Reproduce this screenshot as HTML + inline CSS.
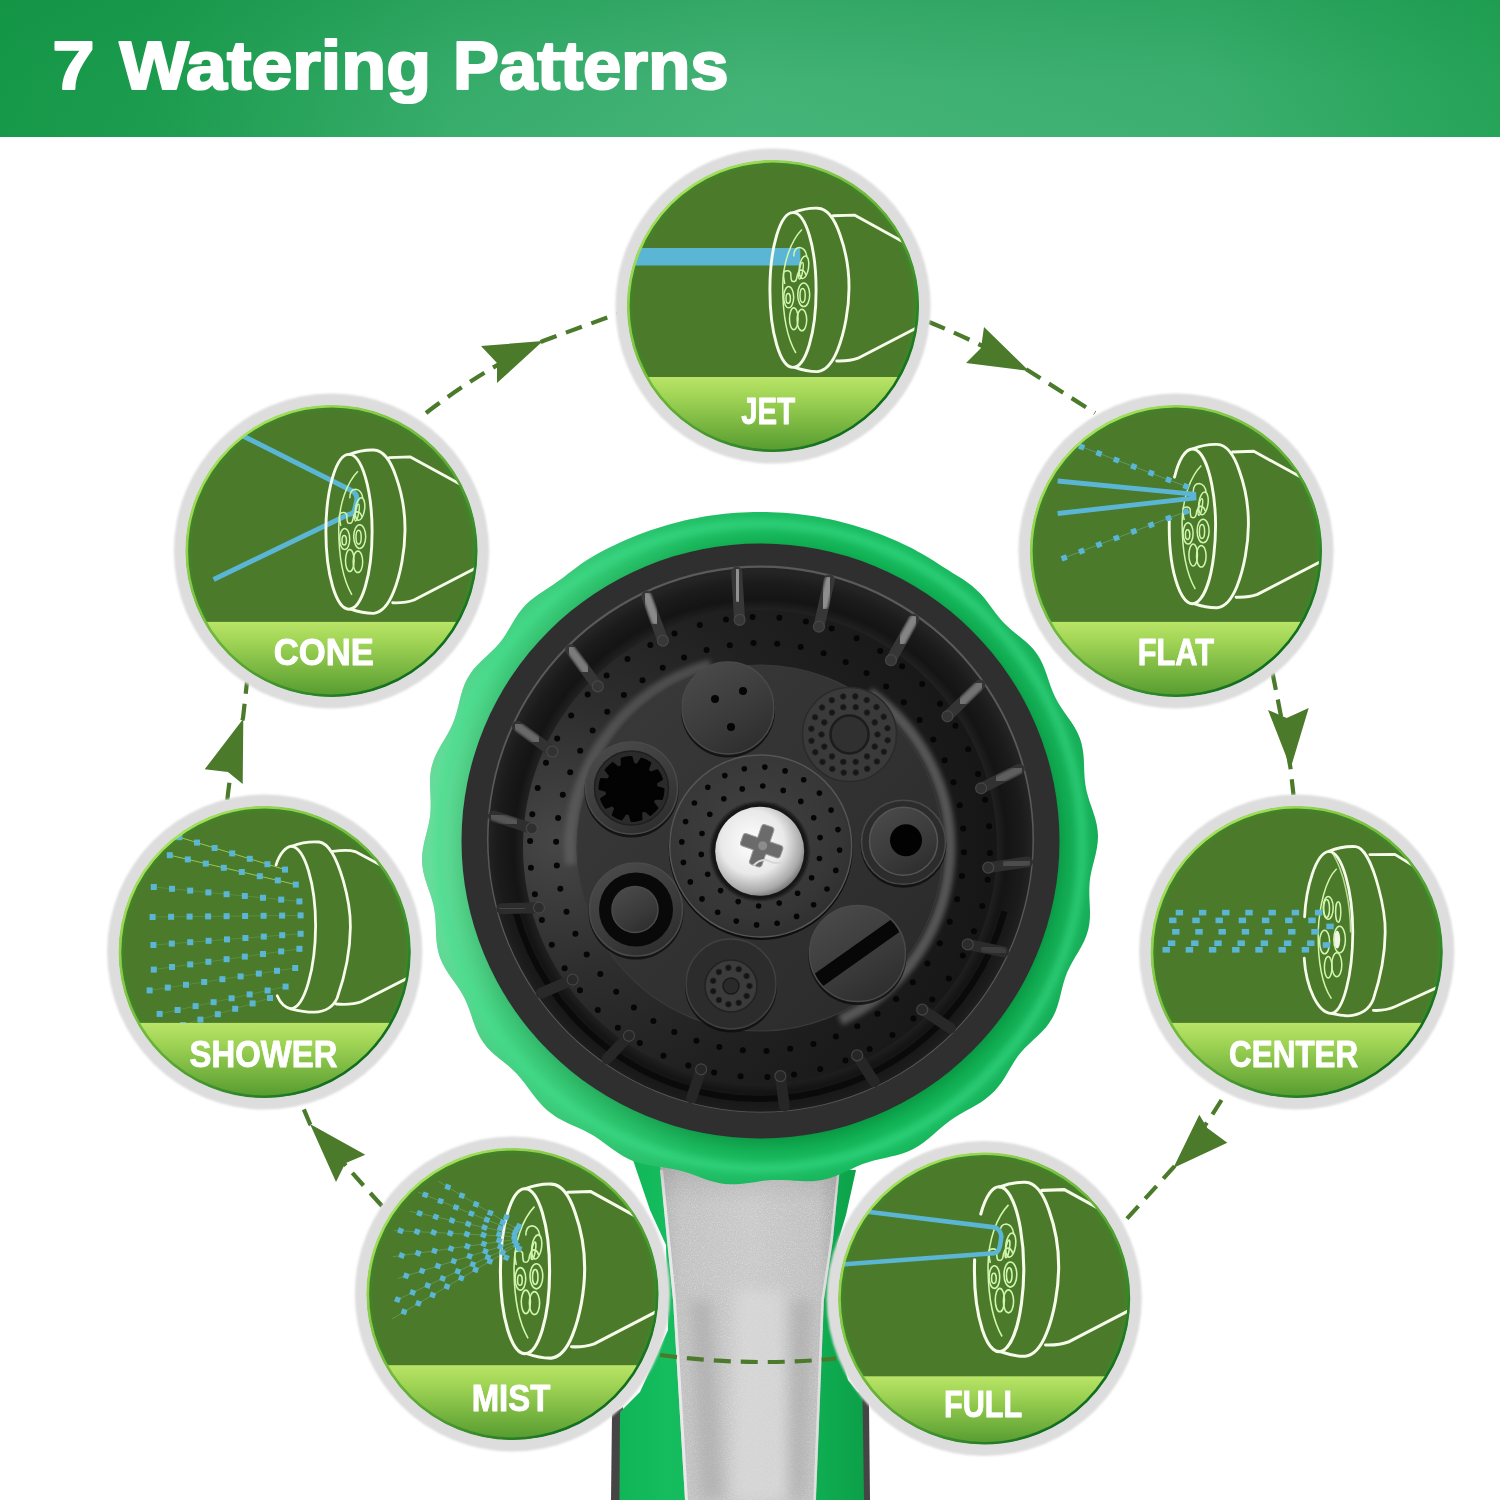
<!DOCTYPE html>
<html><head><meta charset="utf-8"><title>7 Watering Patterns</title>
<style>
html,body{margin:0;padding:0;background:#fff;}
body{width:1500px;height:1500px;overflow:hidden;font-family:"Liberation Sans",sans-serif;}
svg{display:block;}
</style></head><body>
<svg width="1500" height="1500" viewBox="0 0 1500 1500">
<defs>
<linearGradient id="hdrH" x1="0" x2="1" y1="0" y2="0">
 <stop offset="0" stop-color="#17994a"/><stop offset="0.1" stop-color="#1c9c4e"/><stop offset="0.3" stop-color="#38ad6c"/><stop offset="0.5" stop-color="#45b478"/><stop offset="0.8" stop-color="#3db071"/><stop offset="1" stop-color="#26a458"/>
</linearGradient>
<linearGradient id="hdrV" x1="0" x2="0" y1="0" y2="1">
 <stop offset="0" stop-color="#0a8a3c" stop-opacity="0.28"/><stop offset="0.6" stop-color="#0a8a3c" stop-opacity="0.05"/><stop offset="1" stop-color="#0a8a3c" stop-opacity="0"/>
</linearGradient>
<linearGradient id="band" x1="0" x2="0" y1="0" y2="1">
 <stop offset="0" stop-color="#b9e468"/><stop offset="0.25" stop-color="#a0d455"/><stop offset="1" stop-color="#4f962c"/>
</linearGradient>
<linearGradient id="rim" x1="0.15" y1="0.1" x2="0.85" y2="0.9">
 <stop offset="0" stop-color="#a8e45c"/><stop offset="0.45" stop-color="#6fb83a"/><stop offset="1" stop-color="#0c6a1e"/>
</linearGradient>
<radialGradient id="discG" gradientUnits="userSpaceOnUse" cx="0" cy="0" r="145.6"><stop offset="0" stop-color="#4a7a2a"/><stop offset="0.95" stop-color="#4a7a2a"/><stop offset="1" stop-color="#3f8828"/></radialGradient>
<filter id="grain" x="0" y="0" width="100%" height="100%"><feTurbulence type="fractalNoise" baseFrequency="0.85" numOctaves="2" seed="7" result="n"/><feColorMatrix in="n" type="matrix" values="0 0 0 0 1  0 0 0 0 1  0 0 0 0 1  1.4 0 0 0 -0.62" result="m"/><feComposite in="m" in2="SourceGraphic" operator="in"/></filter>
<filter id="blur1" x="-10%" y="-10%" width="120%" height="120%"><feGaussianBlur stdDeviation="1.3"/></filter>
<filter id="blur2" x="-10%" y="-10%" width="120%" height="120%"><feGaussianBlur stdDeviation="2.5"/></filter>
<filter id="blur6" x="-50%" y="-20%" width="200%" height="140%"><feGaussianBlur stdDeviation="7"/></filter>
<filter id="blur05"><feGaussianBlur stdDeviation="0.6"/></filter>
<clipPath id="cc"><circle r="145.6"/></clipPath>
<radialGradient id="greenHead" gradientUnits="userSpaceOnUse" cx="760" cy="846" r="340">
 <stop offset="0.85" stop-color="#08923f"/><stop offset="0.9" stop-color="#10b053"/><stop offset="0.95" stop-color="#1fc569"/><stop offset="1" stop-color="#17b55b"/>
</radialGradient>
<linearGradient id="greenLight" gradientUnits="userSpaceOnUse" x1="424" y1="0" x2="1097" y2="0">
 <stop offset="0" stop-color="#b8ffd8" stop-opacity="0.5"/><stop offset="0.12" stop-color="#a0ffcc" stop-opacity="0.32"/><stop offset="0.4" stop-color="#a0ffcc" stop-opacity="0.06"/><stop offset="0.7" stop-color="#00401c" stop-opacity="0"/><stop offset="1" stop-color="#00401c" stop-opacity="0.1"/>
</linearGradient>
<radialGradient id="wall" gradientUnits="userSpaceOnUse" cx="760" cy="846" r="274">
 <stop offset="0" stop-color="#1c1c1c"/><stop offset="0.86" stop-color="#222"/><stop offset="0.9" stop-color="#141414"/><stop offset="0.96" stop-color="#1b1b1b"/><stop offset="1" stop-color="#242424"/>
</radialGradient>
<radialGradient id="floor" gradientUnits="userSpaceOnUse" cx="560" cy="840" r="440">
 <stop offset="0" stop-color="#474747"/><stop offset="0.3" stop-color="#2e2e2e"/><stop offset="0.6" stop-color="#202020"/><stop offset="1" stop-color="#161616"/>
</radialGradient>
<linearGradient id="plate" x1="0" y1="0" x2="1" y2="1">
 <stop offset="0" stop-color="#3a3a3a"/><stop offset="0.5" stop-color="#323232"/><stop offset="1" stop-color="#292929"/>
</linearGradient>
<linearGradient id="nozTop" x1="0.2" y1="0" x2="0.8" y2="1">
 <stop offset="0" stop-color="#4a4a4a"/><stop offset="0.6" stop-color="#3a3a3a"/><stop offset="1" stop-color="#2c2c2c"/>
</linearGradient>
<radialGradient id="cdisc" cx="0.45" cy="0.4" r="0.7">
 <stop offset="0" stop-color="#414141"/><stop offset="0.7" stop-color="#363636"/><stop offset="1" stop-color="#2b2b2b"/>
</radialGradient>
<radialGradient id="screw" cx="0.42" cy="0.4" r="0.65">
 <stop offset="0" stop-color="#ffffff"/><stop offset="0.55" stop-color="#e9e9e9"/><stop offset="0.85" stop-color="#a9a9a9"/><stop offset="1" stop-color="#6a6a6a"/>
</radialGradient>
<linearGradient id="silver" x1="0" x2="1" y1="0" y2="0">
 <stop offset="0" stop-color="#b4b4b4"/><stop offset="0.12" stop-color="#c2c2c2"/><stop offset="0.5" stop-color="#c9c9c9"/><stop offset="0.88" stop-color="#c0c0c0"/><stop offset="1" stop-color="#a6a6a6"/>
</linearGradient>
<linearGradient id="neckShadow" x1="0" x2="0" y1="0" y2="1"><stop offset="0" stop-color="#8a8a8a" stop-opacity="0.35"/><stop offset="0.5" stop-color="#8a8a8a" stop-opacity="0.15"/><stop offset="1" stop-color="#8a8a8a" stop-opacity="0"/></linearGradient>
<linearGradient id="neckG" x1="0" x2="1" y1="0" y2="0">
 <stop offset="0" stop-color="#10b556"/><stop offset="0.2" stop-color="#15bd5f"/><stop offset="0.8" stop-color="#0fae52"/><stop offset="1" stop-color="#0ca049"/>
</linearGradient>
</defs>
<rect x="0" y="0" width="1500" height="137" fill="url(#hdrH)"/>
<rect x="0" y="0" width="1500" height="137" fill="url(#hdrV)"/>
<text x="52.5" y="88.8" font-family="'Liberation Sans', sans-serif" font-weight="bold" font-size="68" fill="#ffffff" stroke="#ffffff" stroke-width="2.2" stroke-linejoin="round" lengthAdjust="spacingAndGlyphs" opacity="0.999" textLength="42">7</text>
<text x="119.5" y="88.8" font-family="'Liberation Sans', sans-serif" font-weight="bold" font-size="68" fill="#ffffff" stroke="#ffffff" stroke-width="2.2" stroke-linejoin="round" lengthAdjust="spacingAndGlyphs" opacity="0.999" textLength="311.5">Watering</text>
<text x="453" y="88.8" font-family="'Liberation Sans', sans-serif" font-weight="bold" font-size="68" fill="#ffffff" stroke="#ffffff" stroke-width="2.2" stroke-linejoin="round" lengthAdjust="spacingAndGlyphs" opacity="0.999" textLength="275.5">Patterns</text>
<path d="M426,413 Q482,370 543,341 L617,314" fill="none" stroke="#4a7a2a" stroke-width="4.2" stroke-dasharray="17 10"/>
<polygon points="543,341 481,346 497,363 497,383" fill="#4a7a2a"/>
<path d="M929,322 Q985,345 1029,371 L1095,413" fill="none" stroke="#4a7a2a" stroke-width="4.2" stroke-dasharray="17 10"/>
<polygon points="1029,371 984,327 981,348 966,363" fill="#4a7a2a"/>
<path d="M1272.5,673 Q1283,725 1290.5,768 L1293.5,795" fill="none" stroke="#4a7a2a" stroke-width="4.2" stroke-dasharray="17 10"/>
<polygon points="1290.7,768 1268,710 1286.7,718 1308.7,708" fill="#4a7a2a"/>
<path d="M1221.5,1100 Q1200,1135 1173,1168 L1123,1223" fill="none" stroke="#4a7a2a" stroke-width="4.2" stroke-dasharray="17 10"/>
<polygon points="1173.3,1168 1199.3,1114.7 1207.3,1128 1227.3,1142.7" fill="#4a7a2a"/>
<path d="M382,1206 Q342,1162 310,1124 L302,1105" fill="none" stroke="#4a7a2a" stroke-width="4.2" stroke-dasharray="17 10"/>
<polygon points="310,1124 365.3,1154.7 345.3,1163.3 336,1182" fill="#4a7a2a"/>
<path d="M227.3,800 Q232,755 243,718 L247,682" fill="none" stroke="#4a7a2a" stroke-width="4.2" stroke-dasharray="17 10"/>
<polygon points="243.3,718.7 204.7,769.3 228,772 242.7,784" fill="#4a7a2a"/>
<path d="M612,1414 L623,1407 L622,1500 L611,1500 Z" fill="#454545"/>
<path d="M858,1392 L869,1404 L870,1500 L858,1500 Z" fill="#454545"/>
<path d="M633,1160 L650,1210 L666,1245 L668,1330 L640,1392 L620,1412 L619.5,1500 L864,1500 L862.5,1398 L848,1380 L834,1330 L837,1245 L846,1215 L856,1170 Z" fill="url(#neckG)"/>
<path d="M660,1165 L840,1165 L833,1240 L824,1300 L820,1400 L816,1500 L685,1500 L679,1400 L673,1300 L666,1230 Z" fill="url(#silver)"/>
<path d="M660,1165 L840,1165 L833,1240 L824,1300 L820,1400 L816,1500 L685,1500 L679,1400 L673,1300 L666,1230 Z" fill="#fff" filter="url(#grain)" opacity="0.55"/>
<path d="M735,1290 L785,1290 Q786,1400 790,1500 L732,1500 Q734,1400 735,1290 Z" fill="#dedede" opacity="0.6" filter="url(#blur6)"/>
<path d="M690,1300 L712,1300 Q718,1400 724,1500 L700,1500 Z" fill="#a0a0a0" opacity="0.5" filter="url(#blur6)"/>
<path d="M792,1300 L812,1300 Q808,1400 804,1500 L790,1500 Z" fill="#a0a0a0" opacity="0.5" filter="url(#blur6)"/>
<path d="M661.5,1170 L667.5,1230 L674.5,1300 L680.5,1400 L686.5,1500" fill="none" stroke="#ececec" stroke-width="3" opacity="0.9"/>
<path d="M838.5,1170 L831.5,1240 L822.5,1300 L818.5,1400 L814.5,1500" fill="none" stroke="#e6e6e6" stroke-width="2.5" opacity="0.8"/>
<path d="M660,1165 L840,1165 L838,1205 L662,1205 Z" fill="url(#neckShadow)"/>
<path d="M1096.9,848.0 L1095.7,853.9 L1094.3,859.7 L1092.8,865.4 L1091.4,871.2 L1090.3,876.9 L1089.6,882.6 L1089.3,888.4 L1089.3,894.3 L1089.5,900.2 L1089.8,906.2 L1090.0,912.1 L1089.9,918.1 L1089.3,924.0 L1088.2,929.8 L1086.4,935.5 L1084.2,941.0 L1081.5,946.3 L1078.6,951.5 L1075.5,956.6 L1072.5,961.7 L1069.7,966.9 L1067.3,972.1 L1065.2,977.6 L1063.5,983.1 L1062.0,988.8 L1060.6,994.6 L1059.1,1000.4 L1057.4,1006.2 L1055.4,1011.7 L1052.9,1017.1 L1049.8,1022.1 L1046.3,1026.9 L1042.3,1031.3 L1038.1,1035.6 L1033.7,1039.6 L1029.3,1043.7 L1025.1,1047.8 L1021.2,1052.1 L1017.6,1056.6 L1014.3,1061.4 L1011.3,1066.4 L1008.3,1071.6 L1005.2,1076.7 L1002.0,1081.7 L998.4,1086.4 L994.6,1090.9 L990.3,1095.0 L985.8,1098.8 L981.0,1102.2 L975.9,1105.3 L970.7,1108.2 L965.5,1111.1 L960.4,1114.0 L955.4,1117.0 L950.6,1120.2 L946.0,1123.7 L941.4,1127.4 L937.0,1131.2 L932.5,1135.2 L928.0,1139.0 L923.3,1142.7 L918.5,1146.0 L913.3,1148.9 L908.0,1151.4 L902.5,1153.5 L896.8,1155.2 L891.0,1156.6 L885.2,1157.9 L879.4,1159.2 L873.8,1160.6 L868.2,1162.2 L862.7,1164.1 L857.3,1166.3 L852.0,1168.7 L846.6,1171.2 L841.2,1173.7 L835.7,1176.0 L830.1,1178.0 L824.4,1179.5 L818.6,1180.6 L812.8,1181.2 L806.8,1181.3 L800.9,1181.1 L795.0,1180.8 L789.1,1180.3 L783.2,1180.0 L777.4,1180.0 L771.6,1180.1 L765.8,1180.6 L760.0,1181.3 L754.2,1182.2 L748.3,1183.1 L742.4,1183.8 L736.5,1184.3 L730.6,1184.3 L724.7,1183.9 L718.9,1183.0 L713.1,1181.6 L707.4,1179.9 L701.8,1177.9 L696.3,1175.8 L690.7,1173.8 L685.2,1172.0 L679.6,1170.4 L673.9,1169.2 L668.2,1168.2 L662.4,1167.3 L656.5,1166.5 L650.6,1165.6 L644.8,1164.5 L639.1,1163.1 L633.5,1161.2 L628.1,1158.8 L622.9,1156.0 L617.9,1152.8 L613.0,1149.4 L608.2,1145.9 L603.5,1142.4 L598.7,1139.0 L593.8,1135.8 L588.8,1132.9 L583.6,1130.3 L578.3,1127.8 L572.9,1125.4 L567.5,1122.9 L562.2,1120.3 L557.0,1117.4 L552.1,1114.1 L547.5,1110.5 L543.2,1106.4 L539.1,1102.1 L535.4,1097.5 L531.7,1092.8 L528.2,1088.0 L524.7,1083.3 L521.1,1078.7 L517.3,1074.3 L513.2,1070.2 L508.9,1066.3 L504.3,1062.6 L499.6,1058.8 L495.0,1055.0 L490.6,1051.0 L486.6,1046.7 L483.0,1042.0 L479.9,1037.0 L477.2,1031.6 L475.0,1026.1 L473.0,1020.4 L471.1,1014.8 L469.2,1009.2 L467.1,1003.7 L464.7,998.5 L462.0,993.4 L458.9,988.4 L455.5,983.6 L452.1,978.7 L448.6,973.8 L445.4,968.8 L442.6,963.5 L440.2,958.1 L438.5,952.5 L437.3,946.7 L436.5,940.8 L436.1,934.8 L435.9,928.8 L435.7,922.9 L435.3,917.0 L434.6,911.2 L433.6,905.6 L432.1,899.9 L430.4,894.3 L428.4,888.7 L426.5,883.1 L424.7,877.3 L423.3,871.5 L422.4,865.7 L422.0,859.8 L422.3,853.9 L423.1,848.0 L424.3,842.1 L425.7,836.3 L427.2,830.6 L428.6,824.8 L429.7,819.1 L430.4,813.4 L430.7,807.6 L430.7,801.7 L430.5,795.8 L430.2,789.8 L430.0,783.9 L430.1,777.9 L430.7,772.0 L431.8,766.2 L433.6,760.5 L435.8,755.0 L438.5,749.7 L441.4,744.5 L444.5,739.4 L447.5,734.3 L450.3,729.1 L452.7,723.9 L454.8,718.4 L456.5,712.9 L458.0,707.2 L459.4,701.4 L460.9,695.6 L462.6,689.8 L464.6,684.3 L467.1,678.9 L470.2,673.9 L473.7,669.1 L477.7,664.7 L481.9,660.4 L486.3,656.4 L490.7,652.3 L494.9,648.2 L498.8,643.9 L502.4,639.4 L505.7,634.6 L508.7,629.6 L511.7,624.4 L514.8,619.3 L518.0,614.3 L521.6,609.6 L525.5,605.1 L529.8,601.1 L534.3,597.4 L539.1,593.9 L544.1,590.7 L549.0,587.4 L553.9,584.2 L558.7,580.8 L563.4,577.4 L568.0,573.8 L572.7,570.3 L577.4,566.7 L582.1,563.3 L587.0,560.1 L592.0,557.0 L597.1,554.1 L602.2,551.3 L607.5,548.6 L612.7,546.0 L618.0,543.5 L623.3,541.0 L628.7,538.7 L634.1,536.5 L639.6,534.3 L645.1,532.3 L650.6,530.3 L656.2,528.4 L661.8,526.7 L667.4,525.0 L673.0,523.4 L678.7,522.0 L684.4,520.6 L690.1,519.3 L695.9,518.2 L701.7,517.1 L707.4,516.1 L713.2,515.3 L719.1,514.5 L724.9,513.8 L730.7,513.3 L736.6,512.8 L742.4,512.5 L748.3,512.2 L754.1,512.1 L760.0,512.0 L765.9,512.1 L771.7,512.2 L777.6,512.5 L783.4,512.8 L789.3,513.3 L795.1,513.8 L800.9,514.5 L806.8,515.3 L812.6,516.1 L818.3,517.1 L824.1,518.2 L829.9,519.3 L835.6,520.6 L841.3,522.0 L847.0,523.4 L852.6,525.0 L858.2,526.7 L863.8,528.4 L869.4,530.3 L874.9,532.3 L880.4,534.3 L885.9,536.5 L891.3,538.7 L896.7,541.0 L902.0,543.5 L907.3,546.0 L912.5,548.6 L917.7,551.4 L922.8,554.2 L927.9,557.2 L932.8,560.3 L937.8,563.5 L942.7,566.7 L947.7,569.8 L952.6,572.9 L957.6,576.0 L962.6,579.1 L967.5,582.5 L972.2,586.0 L976.6,589.9 L980.8,594.0 L984.7,598.5 L988.3,603.2 L991.8,607.9 L995.3,612.7 L998.9,617.3 L1002.7,621.7 L1006.8,625.8 L1011.1,629.7 L1015.7,633.4 L1020.4,637.2 L1025.0,641.0 L1029.4,645.0 L1033.4,649.3 L1037.0,654.0 L1040.1,659.0 L1042.8,664.4 L1045.0,669.9 L1047.0,675.6 L1048.9,681.2 L1050.8,686.8 L1052.9,692.3 L1055.3,697.5 L1058.0,702.6 L1061.1,707.6 L1064.5,712.4 L1067.9,717.3 L1071.4,722.2 L1074.6,727.2 L1077.4,732.5 L1079.8,737.9 L1081.5,743.5 L1082.7,749.3 L1083.5,755.2 L1083.9,761.2 L1084.1,767.2 L1084.3,773.1 L1084.7,779.0 L1085.4,784.8 L1086.4,790.4 L1087.9,796.1 L1089.6,801.7 L1091.6,807.3 L1093.5,812.9 L1095.3,818.7 L1096.7,824.5 L1097.6,830.3 L1098.0,836.2 L1097.7,842.1 Z" fill="url(#greenHead)"/>
<path d="M1096.9,848.0 L1095.7,853.9 L1094.3,859.7 L1092.8,865.4 L1091.4,871.2 L1090.3,876.9 L1089.6,882.6 L1089.3,888.4 L1089.3,894.3 L1089.5,900.2 L1089.8,906.2 L1090.0,912.1 L1089.9,918.1 L1089.3,924.0 L1088.2,929.8 L1086.4,935.5 L1084.2,941.0 L1081.5,946.3 L1078.6,951.5 L1075.5,956.6 L1072.5,961.7 L1069.7,966.9 L1067.3,972.1 L1065.2,977.6 L1063.5,983.1 L1062.0,988.8 L1060.6,994.6 L1059.1,1000.4 L1057.4,1006.2 L1055.4,1011.7 L1052.9,1017.1 L1049.8,1022.1 L1046.3,1026.9 L1042.3,1031.3 L1038.1,1035.6 L1033.7,1039.6 L1029.3,1043.7 L1025.1,1047.8 L1021.2,1052.1 L1017.6,1056.6 L1014.3,1061.4 L1011.3,1066.4 L1008.3,1071.6 L1005.2,1076.7 L1002.0,1081.7 L998.4,1086.4 L994.6,1090.9 L990.3,1095.0 L985.8,1098.8 L981.0,1102.2 L975.9,1105.3 L970.7,1108.2 L965.5,1111.1 L960.4,1114.0 L955.4,1117.0 L950.6,1120.2 L946.0,1123.7 L941.4,1127.4 L937.0,1131.2 L932.5,1135.2 L928.0,1139.0 L923.3,1142.7 L918.5,1146.0 L913.3,1148.9 L908.0,1151.4 L902.5,1153.5 L896.8,1155.2 L891.0,1156.6 L885.2,1157.9 L879.4,1159.2 L873.8,1160.6 L868.2,1162.2 L862.7,1164.1 L857.3,1166.3 L852.0,1168.7 L846.6,1171.2 L841.2,1173.7 L835.7,1176.0 L830.1,1178.0 L824.4,1179.5 L818.6,1180.6 L812.8,1181.2 L806.8,1181.3 L800.9,1181.1 L795.0,1180.8 L789.1,1180.3 L783.2,1180.0 L777.4,1180.0 L771.6,1180.1 L765.8,1180.6 L760.0,1181.3 L754.2,1182.2 L748.3,1183.1 L742.4,1183.8 L736.5,1184.3 L730.6,1184.3 L724.7,1183.9 L718.9,1183.0 L713.1,1181.6 L707.4,1179.9 L701.8,1177.9 L696.3,1175.8 L690.7,1173.8 L685.2,1172.0 L679.6,1170.4 L673.9,1169.2 L668.2,1168.2 L662.4,1167.3 L656.5,1166.5 L650.6,1165.6 L644.8,1164.5 L639.1,1163.1 L633.5,1161.2 L628.1,1158.8 L622.9,1156.0 L617.9,1152.8 L613.0,1149.4 L608.2,1145.9 L603.5,1142.4 L598.7,1139.0 L593.8,1135.8 L588.8,1132.9 L583.6,1130.3 L578.3,1127.8 L572.9,1125.4 L567.5,1122.9 L562.2,1120.3 L557.0,1117.4 L552.1,1114.1 L547.5,1110.5 L543.2,1106.4 L539.1,1102.1 L535.4,1097.5 L531.7,1092.8 L528.2,1088.0 L524.7,1083.3 L521.1,1078.7 L517.3,1074.3 L513.2,1070.2 L508.9,1066.3 L504.3,1062.6 L499.6,1058.8 L495.0,1055.0 L490.6,1051.0 L486.6,1046.7 L483.0,1042.0 L479.9,1037.0 L477.2,1031.6 L475.0,1026.1 L473.0,1020.4 L471.1,1014.8 L469.2,1009.2 L467.1,1003.7 L464.7,998.5 L462.0,993.4 L458.9,988.4 L455.5,983.6 L452.1,978.7 L448.6,973.8 L445.4,968.8 L442.6,963.5 L440.2,958.1 L438.5,952.5 L437.3,946.7 L436.5,940.8 L436.1,934.8 L435.9,928.8 L435.7,922.9 L435.3,917.0 L434.6,911.2 L433.6,905.6 L432.1,899.9 L430.4,894.3 L428.4,888.7 L426.5,883.1 L424.7,877.3 L423.3,871.5 L422.4,865.7 L422.0,859.8 L422.3,853.9 L423.1,848.0 L424.3,842.1 L425.7,836.3 L427.2,830.6 L428.6,824.8 L429.7,819.1 L430.4,813.4 L430.7,807.6 L430.7,801.7 L430.5,795.8 L430.2,789.8 L430.0,783.9 L430.1,777.9 L430.7,772.0 L431.8,766.2 L433.6,760.5 L435.8,755.0 L438.5,749.7 L441.4,744.5 L444.5,739.4 L447.5,734.3 L450.3,729.1 L452.7,723.9 L454.8,718.4 L456.5,712.9 L458.0,707.2 L459.4,701.4 L460.9,695.6 L462.6,689.8 L464.6,684.3 L467.1,678.9 L470.2,673.9 L473.7,669.1 L477.7,664.7 L481.9,660.4 L486.3,656.4 L490.7,652.3 L494.9,648.2 L498.8,643.9 L502.4,639.4 L505.7,634.6 L508.7,629.6 L511.7,624.4 L514.8,619.3 L518.0,614.3 L521.6,609.6 L525.5,605.1 L529.8,601.1 L534.3,597.4 L539.1,593.9 L544.1,590.7 L549.0,587.4 L553.9,584.2 L558.7,580.8 L563.4,577.4 L568.0,573.8 L572.7,570.3 L577.4,566.7 L582.1,563.3 L587.0,560.1 L592.0,557.0 L597.1,554.1 L602.2,551.3 L607.5,548.6 L612.7,546.0 L618.0,543.5 L623.3,541.0 L628.7,538.7 L634.1,536.5 L639.6,534.3 L645.1,532.3 L650.6,530.3 L656.2,528.4 L661.8,526.7 L667.4,525.0 L673.0,523.4 L678.7,522.0 L684.4,520.6 L690.1,519.3 L695.9,518.2 L701.7,517.1 L707.4,516.1 L713.2,515.3 L719.1,514.5 L724.9,513.8 L730.7,513.3 L736.6,512.8 L742.4,512.5 L748.3,512.2 L754.1,512.1 L760.0,512.0 L765.9,512.1 L771.7,512.2 L777.6,512.5 L783.4,512.8 L789.3,513.3 L795.1,513.8 L800.9,514.5 L806.8,515.3 L812.6,516.1 L818.3,517.1 L824.1,518.2 L829.9,519.3 L835.6,520.6 L841.3,522.0 L847.0,523.4 L852.6,525.0 L858.2,526.7 L863.8,528.4 L869.4,530.3 L874.9,532.3 L880.4,534.3 L885.9,536.5 L891.3,538.7 L896.7,541.0 L902.0,543.5 L907.3,546.0 L912.5,548.6 L917.7,551.4 L922.8,554.2 L927.9,557.2 L932.8,560.3 L937.8,563.5 L942.7,566.7 L947.7,569.8 L952.6,572.9 L957.6,576.0 L962.6,579.1 L967.5,582.5 L972.2,586.0 L976.6,589.9 L980.8,594.0 L984.7,598.5 L988.3,603.2 L991.8,607.9 L995.3,612.7 L998.9,617.3 L1002.7,621.7 L1006.8,625.8 L1011.1,629.7 L1015.7,633.4 L1020.4,637.2 L1025.0,641.0 L1029.4,645.0 L1033.4,649.3 L1037.0,654.0 L1040.1,659.0 L1042.8,664.4 L1045.0,669.9 L1047.0,675.6 L1048.9,681.2 L1050.8,686.8 L1052.9,692.3 L1055.3,697.5 L1058.0,702.6 L1061.1,707.6 L1064.5,712.4 L1067.9,717.3 L1071.4,722.2 L1074.6,727.2 L1077.4,732.5 L1079.8,737.9 L1081.5,743.5 L1082.7,749.3 L1083.5,755.2 L1083.9,761.2 L1084.1,767.2 L1084.3,773.1 L1084.7,779.0 L1085.4,784.8 L1086.4,790.4 L1087.9,796.1 L1089.6,801.7 L1091.6,807.3 L1093.5,812.9 L1095.3,818.7 L1096.7,824.5 L1097.6,830.3 L1098.0,836.2 L1097.7,842.1 Z" fill="url(#greenLight)"/>
<circle cx="760" cy="846" r="322" fill="none" stroke="#3ddb88" stroke-width="10" opacity="0.35" filter="url(#blur2)"/>
<ellipse cx="760.5" cy="841" rx="299" ry="297.5" fill="#2f2f2f"/>
<circle cx="760.5" cy="839" r="273.5" fill="#5a5a5a"/>
<circle cx="760.5" cy="839.8" r="272" fill="url(#wall)"/>
<path d="M1004.4,911.5 A253,253 0 0 1 515.6,911.5" fill="none" stroke="#090909" stroke-width="6" opacity="0.9"/>
<circle cx="760" cy="847" r="237" fill="url(#floor)"/>
<line x1="1027.5" y1="861.9" x2="988.2" y2="867.6" stroke="#2e2e2e" stroke-width="11" stroke-linecap="round"/><circle cx="988.2" cy="867.6" r="5.5" fill="none" stroke="#4c4c4c" stroke-width="1.2" opacity="0.8"/><line x1="1027.5" y1="861.9" x2="1005.9" y2="865.0" stroke="#5c5c5c" stroke-width="8.5" stroke-linecap="round" filter="url(#blur1)" opacity="0.67"/><line x1="1003.6" y1="951.8" x2="967.7" y2="944.4" stroke="#2b2b2b" stroke-width="11" stroke-linecap="round"/><circle cx="967.7" cy="944.4" r="5.5" fill="none" stroke="#4c4c4c" stroke-width="1.2" opacity="0.8"/><line x1="1003.6" y1="951.8" x2="983.9" y2="947.8" stroke="#4c4c4c" stroke-width="8.5" stroke-linecap="round" filter="url(#blur1)" opacity="0.57"/><line x1="950.3" y1="1028.2" x2="922.2" y2="1009.6" stroke="#282828" stroke-width="11" stroke-linecap="round"/><circle cx="922.2" cy="1009.6" r="5.5" fill="none" stroke="#4c4c4c" stroke-width="1.2" opacity="0.8"/><line x1="874.2" y1="1081.7" x2="857.1" y2="1055.4" stroke="#262626" stroke-width="11" stroke-linecap="round"/><circle cx="857.1" cy="1055.4" r="5.5" fill="none" stroke="#4c4c4c" stroke-width="1.2" opacity="0.8"/><line x1="784.3" y1="1105.9" x2="780.4" y2="1076.1" stroke="#262626" stroke-width="11" stroke-linecap="round"/><circle cx="780.4" cy="1076.1" r="5.5" fill="none" stroke="#4c4c4c" stroke-width="1.2" opacity="0.8"/><line x1="691.6" y1="1098.0" x2="701.1" y2="1069.3" stroke="#262626" stroke-width="11" stroke-linecap="round"/><circle cx="701.1" cy="1069.3" r="5.5" fill="none" stroke="#4c4c4c" stroke-width="1.2" opacity="0.8"/><line x1="607.2" y1="1058.8" x2="629.0" y2="1035.8" stroke="#272727" stroke-width="11" stroke-linecap="round"/><circle cx="629.0" cy="1035.8" r="5.5" fill="none" stroke="#4c4c4c" stroke-width="1.2" opacity="0.8"/><line x1="541.2" y1="993.1" x2="572.6" y2="979.7" stroke="#292929" stroke-width="11" stroke-linecap="round"/><circle cx="572.6" cy="979.7" r="5.5" fill="none" stroke="#4c4c4c" stroke-width="1.2" opacity="0.8"/><line x1="501.8" y1="908.8" x2="538.9" y2="907.7" stroke="#2c2c2c" stroke-width="11" stroke-linecap="round"/><circle cx="538.9" cy="907.7" r="5.5" fill="none" stroke="#4c4c4c" stroke-width="1.2" opacity="0.8"/><line x1="501.8" y1="908.8" x2="522.2" y2="908.2" stroke="#545454" stroke-width="8.5" stroke-linecap="round" filter="url(#blur1)" opacity="0.62"/><line x1="493.5" y1="816.1" x2="531.8" y2="828.4" stroke="#2f2f2f" stroke-width="11" stroke-linecap="round"/><circle cx="531.8" cy="828.4" r="5.5" fill="none" stroke="#4c4c4c" stroke-width="1.2" opacity="0.8"/><line x1="493.5" y1="816.1" x2="514.6" y2="822.9" stroke="#656565" stroke-width="8.5" stroke-linecap="round" filter="url(#blur1)" opacity="0.73"/><line x1="517.4" y1="726.2" x2="552.3" y2="751.6" stroke="#323232" stroke-width="11" stroke-linecap="round"/><circle cx="552.3" cy="751.6" r="5.5" fill="none" stroke="#4c4c4c" stroke-width="1.2" opacity="0.8"/><line x1="517.4" y1="726.2" x2="536.6" y2="740.1" stroke="#757575" stroke-width="8.5" stroke-linecap="round" filter="url(#blur1)" opacity="0.83"/><line x1="570.7" y1="649.8" x2="597.8" y2="686.4" stroke="#353535" stroke-width="11" stroke-linecap="round"/><circle cx="597.8" cy="686.4" r="5.5" fill="none" stroke="#4c4c4c" stroke-width="1.2" opacity="0.8"/><line x1="570.7" y1="649.8" x2="585.6" y2="669.9" stroke="#838383" stroke-width="8.5" stroke-linecap="round" filter="url(#blur1)" opacity="0.91"/><line x1="646.8" y1="596.3" x2="662.9" y2="640.6" stroke="#373737" stroke-width="11" stroke-linecap="round"/><circle cx="662.9" cy="640.6" r="5.5" fill="none" stroke="#4c4c4c" stroke-width="1.2" opacity="0.8"/><line x1="646.8" y1="596.3" x2="655.6" y2="620.7" stroke="#8d8d8d" stroke-width="8.5" stroke-linecap="round" filter="url(#blur1)" opacity="0.97"/><line x1="736.7" y1="572.1" x2="739.6" y2="619.9" stroke="#373737" stroke-width="11" stroke-linecap="round"/><circle cx="739.6" cy="619.9" r="5.5" fill="none" stroke="#4c4c4c" stroke-width="1.2" opacity="0.8"/><line x1="736.7" y1="572.1" x2="738.3" y2="598.4" stroke="#919191" stroke-width="8.5" stroke-linecap="round" filter="url(#blur1)" opacity="1.00"/><line x1="829.4" y1="580.0" x2="818.9" y2="626.7" stroke="#373737" stroke-width="11" stroke-linecap="round"/><circle cx="818.9" cy="626.7" r="5.5" fill="none" stroke="#4c4c4c" stroke-width="1.2" opacity="0.8"/><line x1="829.4" y1="580.0" x2="823.6" y2="605.7" stroke="#909090" stroke-width="8.5" stroke-linecap="round" filter="url(#blur1)" opacity="0.99"/><line x1="913.8" y1="619.2" x2="891.0" y2="660.2" stroke="#363636" stroke-width="11" stroke-linecap="round"/><circle cx="891.0" cy="660.2" r="5.5" fill="none" stroke="#4c4c4c" stroke-width="1.2" opacity="0.8"/><line x1="913.8" y1="619.2" x2="901.3" y2="641.7" stroke="#898989" stroke-width="8.5" stroke-linecap="round" filter="url(#blur1)" opacity="0.95"/><line x1="979.8" y1="684.9" x2="947.4" y2="716.3" stroke="#343434" stroke-width="11" stroke-linecap="round"/><circle cx="947.4" cy="716.3" r="5.5" fill="none" stroke="#4c4c4c" stroke-width="1.2" opacity="0.8"/><line x1="979.8" y1="684.9" x2="961.9" y2="702.2" stroke="#7d7d7d" stroke-width="8.5" stroke-linecap="round" filter="url(#blur1)" opacity="0.87"/><line x1="1019.2" y1="769.2" x2="981.1" y2="788.3" stroke="#313131" stroke-width="11" stroke-linecap="round"/><circle cx="981.1" cy="788.3" r="5.5" fill="none" stroke="#4c4c4c" stroke-width="1.2" opacity="0.8"/><line x1="1019.2" y1="769.2" x2="998.3" y2="779.7" stroke="#6d6d6d" stroke-width="8.5" stroke-linecap="round" filter="url(#blur1)" opacity="0.78"/>
<g fill="#060606"><circle cx="989.9" cy="853.0" r="3"/><circle cx="963.9" cy="852.3" r="3"/><circle cx="987.7" cy="879.7" r="3"/><circle cx="961.9" cy="876.0" r="3"/><circle cx="982.3" cy="905.9" r="3"/><circle cx="957.2" cy="899.2" r="3"/><circle cx="974.0" cy="931.3" r="3"/><circle cx="949.8" cy="921.8" r="3"/><circle cx="962.8" cy="955.6" r="3"/><circle cx="939.8" cy="943.3" r="3"/><circle cx="948.8" cy="978.4" r="3"/><circle cx="927.4" cy="963.5" r="3"/><circle cx="932.3" cy="999.4" r="3"/><circle cx="912.8" cy="982.2" r="3"/><circle cx="913.4" cy="1018.4" r="3"/><circle cx="896.1" cy="999.0" r="3"/><circle cx="892.5" cy="1035.0" r="3"/><circle cx="877.5" cy="1013.8" r="3"/><circle cx="869.7" cy="1049.1" r="3"/><circle cx="857.3" cy="1026.3" r="3"/><circle cx="845.5" cy="1060.5" r="3"/><circle cx="835.9" cy="1036.4" r="3"/><circle cx="820.2" cy="1069.0" r="3"/><circle cx="813.4" cy="1043.9" r="3"/><circle cx="794.0" cy="1074.5" r="3"/><circle cx="790.2" cy="1048.8" r="3"/><circle cx="767.4" cy="1076.9" r="3"/><circle cx="766.5" cy="1050.9" r="3"/><circle cx="740.6" cy="1076.2" r="3"/><circle cx="742.8" cy="1050.3" r="3"/><circle cx="714.1" cy="1072.4" r="3"/><circle cx="719.3" cy="1046.9" r="3"/><circle cx="688.3" cy="1065.5" r="3"/><circle cx="696.4" cy="1040.8" r="3"/><circle cx="663.4" cy="1055.7" r="3"/><circle cx="674.3" cy="1032.1" r="3"/><circle cx="639.8" cy="1043.1" r="3"/><circle cx="653.4" cy="1020.9" r="3"/><circle cx="617.9" cy="1027.8" r="3"/><circle cx="633.9" cy="1007.4" r="3"/><circle cx="597.8" cy="1010.1" r="3"/><circle cx="616.2" cy="991.7" r="3"/><circle cx="580.0" cy="990.2" r="3"/><circle cx="600.3" cy="974.0" r="3"/><circle cx="564.6" cy="968.3" r="3"/><circle cx="586.7" cy="954.6" r="3"/><circle cx="551.8" cy="944.8" r="3"/><circle cx="575.4" cy="933.8" r="3"/><circle cx="541.9" cy="920.0" r="3"/><circle cx="566.5" cy="911.7" r="3"/><circle cx="534.9" cy="894.2" r="3"/><circle cx="560.3" cy="888.8" r="3"/><circle cx="530.9" cy="867.7" r="3"/><circle cx="556.8" cy="865.4" r="3"/><circle cx="530.1" cy="841.0" r="3"/><circle cx="556.1" cy="841.7" r="3"/><circle cx="532.3" cy="814.3" r="3"/><circle cx="558.1" cy="818.0" r="3"/><circle cx="537.7" cy="788.1" r="3"/><circle cx="562.8" cy="794.8" r="3"/><circle cx="546.0" cy="762.7" r="3"/><circle cx="570.2" cy="772.2" r="3"/><circle cx="557.2" cy="738.4" r="3"/><circle cx="580.2" cy="750.7" r="3"/><circle cx="571.2" cy="715.6" r="3"/><circle cx="592.6" cy="730.5" r="3"/><circle cx="587.7" cy="694.6" r="3"/><circle cx="607.2" cy="711.8" r="3"/><circle cx="606.6" cy="675.6" r="3"/><circle cx="623.9" cy="695.0" r="3"/><circle cx="627.5" cy="659.0" r="3"/><circle cx="642.5" cy="680.2" r="3"/><circle cx="650.3" cy="644.9" r="3"/><circle cx="662.7" cy="667.7" r="3"/><circle cx="674.5" cy="633.5" r="3"/><circle cx="684.1" cy="657.6" r="3"/><circle cx="699.8" cy="625.0" r="3"/><circle cx="706.6" cy="650.1" r="3"/><circle cx="726.0" cy="619.5" r="3"/><circle cx="729.8" cy="645.2" r="3"/><circle cx="752.6" cy="617.1" r="3"/><circle cx="753.5" cy="643.1" r="3"/><circle cx="779.4" cy="617.8" r="3"/><circle cx="777.2" cy="643.7" r="3"/><circle cx="805.9" cy="621.6" r="3"/><circle cx="800.7" cy="647.1" r="3"/><circle cx="831.7" cy="628.5" r="3"/><circle cx="823.6" cy="653.2" r="3"/><circle cx="856.6" cy="638.3" r="3"/><circle cx="845.7" cy="661.9" r="3"/><circle cx="880.2" cy="650.9" r="3"/><circle cx="866.6" cy="673.1" r="3"/><circle cx="902.1" cy="666.2" r="3"/><circle cx="886.1" cy="686.6" r="3"/><circle cx="922.2" cy="683.9" r="3"/><circle cx="903.8" cy="702.3" r="3"/><circle cx="940.0" cy="703.8" r="3"/><circle cx="919.7" cy="720.0" r="3"/><circle cx="955.4" cy="725.7" r="3"/><circle cx="933.3" cy="739.4" r="3"/><circle cx="968.2" cy="749.2" r="3"/><circle cx="944.6" cy="760.2" r="3"/><circle cx="978.1" cy="774.0" r="3"/><circle cx="953.5" cy="782.3" r="3"/><circle cx="985.1" cy="799.8" r="3"/><circle cx="959.7" cy="805.2" r="3"/><circle cx="989.1" cy="826.3" r="3"/><circle cx="963.2" cy="828.6" r="3"/></g>
<path d="M869.0,692.4 A190,190 0 0 1 840.3,1020.2" fill="none" stroke="#6a6a6a" stroke-width="11" opacity="0.75" filter="url(#blur2)"/>
<path d="M570.7,864.6 A190,190 0 0 1 710.8,664.5" fill="none" stroke="#686868" stroke-width="11" opacity="0.6" filter="url(#blur2)"/>
<circle cx="760" cy="848" r="183" fill="url(#plate)" stroke="#3a3a3a" stroke-width="1.2"/>
<circle cx="728" cy="710.5" r="47" fill="#0d0d0d" opacity="0.8"/>
<circle cx="728" cy="708" r="46" fill="url(#nozTop)" stroke="#4a4a4a" stroke-width="1.5"/>
<circle cx="715" cy="699" r="4" fill="#040404"/>
<circle cx="743" cy="691" r="4" fill="#040404"/>
<circle cx="731" cy="727" r="4" fill="#040404"/>
<circle cx="849.5" cy="734.5" r="47" fill="#3a3a3a" stroke="#2a2a2a" stroke-width="1.5"/>
<circle cx="849.5" cy="734.5" r="19" fill="#303030" stroke="#1c1c1c" stroke-width="2.5"/>
<circle cx="877.5" cy="734.5" r="2.8" fill="#161616" stroke="#222" stroke-width="1"/>
<circle cx="874.7" cy="746.6" r="2.8" fill="#161616" stroke="#222" stroke-width="1"/>
<circle cx="867.0" cy="756.4" r="2.8" fill="#161616" stroke="#222" stroke-width="1"/>
<circle cx="855.7" cy="761.8" r="2.8" fill="#161616" stroke="#222" stroke-width="1"/>
<circle cx="843.3" cy="761.8" r="2.8" fill="#161616" stroke="#222" stroke-width="1"/>
<circle cx="832.0" cy="756.4" r="2.8" fill="#161616" stroke="#222" stroke-width="1"/>
<circle cx="824.3" cy="746.6" r="2.8" fill="#161616" stroke="#222" stroke-width="1"/>
<circle cx="821.5" cy="734.5" r="2.8" fill="#161616" stroke="#222" stroke-width="1"/>
<circle cx="824.3" cy="722.4" r="2.8" fill="#161616" stroke="#222" stroke-width="1"/>
<circle cx="832.0" cy="712.6" r="2.8" fill="#161616" stroke="#222" stroke-width="1"/>
<circle cx="843.3" cy="707.2" r="2.8" fill="#161616" stroke="#222" stroke-width="1"/>
<circle cx="855.7" cy="707.2" r="2.8" fill="#161616" stroke="#222" stroke-width="1"/>
<circle cx="867.0" cy="712.6" r="2.8" fill="#161616" stroke="#222" stroke-width="1"/>
<circle cx="874.7" cy="722.4" r="2.8" fill="#161616" stroke="#222" stroke-width="1"/>
<circle cx="887.6" cy="740.3" r="2.8" fill="#161616" stroke="#222" stroke-width="1"/>
<circle cx="883.9" cy="751.7" r="2.8" fill="#161616" stroke="#222" stroke-width="1"/>
<circle cx="876.9" cy="761.5" r="2.8" fill="#161616" stroke="#222" stroke-width="1"/>
<circle cx="867.2" cy="768.7" r="2.8" fill="#161616" stroke="#222" stroke-width="1"/>
<circle cx="855.8" cy="772.5" r="2.8" fill="#161616" stroke="#222" stroke-width="1"/>
<circle cx="843.7" cy="772.6" r="2.8" fill="#161616" stroke="#222" stroke-width="1"/>
<circle cx="832.3" cy="768.9" r="2.8" fill="#161616" stroke="#222" stroke-width="1"/>
<circle cx="822.5" cy="761.9" r="2.8" fill="#161616" stroke="#222" stroke-width="1"/>
<circle cx="815.3" cy="752.2" r="2.8" fill="#161616" stroke="#222" stroke-width="1"/>
<circle cx="811.5" cy="740.8" r="2.8" fill="#161616" stroke="#222" stroke-width="1"/>
<circle cx="811.4" cy="728.7" r="2.8" fill="#161616" stroke="#222" stroke-width="1"/>
<circle cx="815.1" cy="717.3" r="2.8" fill="#161616" stroke="#222" stroke-width="1"/>
<circle cx="822.1" cy="707.5" r="2.8" fill="#161616" stroke="#222" stroke-width="1"/>
<circle cx="831.8" cy="700.3" r="2.8" fill="#161616" stroke="#222" stroke-width="1"/>
<circle cx="843.2" cy="696.5" r="2.8" fill="#161616" stroke="#222" stroke-width="1"/>
<circle cx="855.3" cy="696.4" r="2.8" fill="#161616" stroke="#222" stroke-width="1"/>
<circle cx="866.7" cy="700.1" r="2.8" fill="#161616" stroke="#222" stroke-width="1"/>
<circle cx="876.5" cy="707.1" r="2.8" fill="#161616" stroke="#222" stroke-width="1"/>
<circle cx="883.7" cy="716.8" r="2.8" fill="#161616" stroke="#222" stroke-width="1"/>
<circle cx="887.5" cy="728.2" r="2.8" fill="#161616" stroke="#222" stroke-width="1"/>
<circle cx="903.5" cy="844.8" r="43" fill="#0d0d0d" opacity="0.8"/>
<circle cx="903.5" cy="842.3" r="42" fill="#2c2c2c" stroke="#4a4a4a" stroke-width="1.5"/>
<circle cx="903.5" cy="841.3" r="34" fill="url(#nozTop)" stroke="#555" stroke-width="1.5"/>
<circle cx="906.0" cy="840.3" r="16" fill="#020202"/>
<circle cx="857.5" cy="956.0" r="49" fill="#0d0d0d" opacity="0.8"/>
<circle cx="857.5" cy="953.5" r="48" fill="url(#nozTop)" stroke="#4a4a4a" stroke-width="1.5"/>
<clipPath id="slotc"><circle cx="857.5" cy="953.5" r="47"/></clipPath>
<line x1="812.5" y1="984.5" x2="902.5" y2="920.5" stroke="#070707" stroke-width="15" clip-path="url(#slotc)"/>
<circle cx="731" cy="986.5" r="46" fill="#0d0d0d" opacity="0.8"/>
<circle cx="731" cy="984" r="45" fill="#2c2c2c" stroke="#404040" stroke-width="1.5"/>
<circle cx="731" cy="986" r="26" fill="#3b3b3b" stroke="#222" stroke-width="1.5"/>
<circle cx="749.5" cy="986.0" r="2.8" fill="#141414" stroke="#222" stroke-width="1"/>
<circle cx="746.6" cy="996.0" r="2.8" fill="#141414" stroke="#222" stroke-width="1"/>
<circle cx="738.7" cy="1002.8" r="2.8" fill="#141414" stroke="#222" stroke-width="1"/>
<circle cx="728.4" cy="1004.3" r="2.8" fill="#141414" stroke="#222" stroke-width="1"/>
<circle cx="718.9" cy="1000.0" r="2.8" fill="#141414" stroke="#222" stroke-width="1"/>
<circle cx="713.2" cy="991.2" r="2.8" fill="#141414" stroke="#222" stroke-width="1"/>
<circle cx="713.2" cy="980.8" r="2.8" fill="#141414" stroke="#222" stroke-width="1"/>
<circle cx="718.9" cy="972.0" r="2.8" fill="#141414" stroke="#222" stroke-width="1"/>
<circle cx="728.4" cy="967.7" r="2.8" fill="#141414" stroke="#222" stroke-width="1"/>
<circle cx="738.7" cy="969.2" r="2.8" fill="#141414" stroke="#222" stroke-width="1"/>
<circle cx="746.6" cy="976.0" r="2.8" fill="#141414" stroke="#222" stroke-width="1"/>
<circle cx="731" cy="986" r="8" fill="#2a2a2a" stroke="#1a1a1a" stroke-width="1.5"/>
<circle cx="636" cy="912.0" r="47.5" fill="#0d0d0d" opacity="0.8"/>
<circle cx="636" cy="909.5" r="46.5" fill="url(#nozTop)" stroke="#4a4a4a" stroke-width="1.5"/>
<circle cx="636" cy="909.5" r="37" fill="#090909"/>
<circle cx="635" cy="909.5" r="23" fill="url(#nozTop)" stroke="#4a4a4a" stroke-width="1.5"/>
<circle cx="631.5" cy="790.5" r="47" fill="#0d0d0d" opacity="0.8"/>
<circle cx="631.5" cy="788" r="46" fill="url(#nozTop)" stroke="#4a4a4a" stroke-width="1.5"/>
<circle cx="631.5" cy="788" r="37" fill="#2a2a2a" stroke="#1f1f1f" stroke-width="1.5"/>
<polygon points="663.5,789.0 663.4,791.5 663.1,794.0 662.6,796.5 661.9,798.9 654.6,798.6 653.8,800.3 652.8,802.1 657.4,807.8 655.8,809.8 654.1,811.6 652.3,813.3 650.3,814.9 644.6,810.3 642.8,811.3 641.1,812.1 641.4,819.4 639.0,820.1 636.5,820.6 634.0,820.9 631.5,821.0 629.5,813.9 627.6,813.7 625.7,813.3 621.6,819.4 619.3,818.6 617.0,817.5 614.8,816.3 612.7,814.9 615.3,808.0 613.8,806.7 612.5,805.2 605.6,807.8 604.2,805.7 603.0,803.5 601.9,801.2 601.1,798.9 607.2,794.8 606.8,792.9 606.6,791.0 599.5,789.0 599.6,786.5 599.9,784.0 600.4,781.5 601.1,779.1 608.4,779.4 609.2,777.7 610.2,775.9 605.6,770.2 607.2,768.2 608.9,766.4 610.7,764.7 612.7,763.1 618.4,767.7 620.2,766.7 621.9,765.9 621.6,758.6 624.0,757.9 626.5,757.4 629.0,757.1 631.5,757.0 633.5,764.1 635.4,764.3 637.3,764.7 641.4,758.6 643.7,759.4 646.0,760.5 648.2,761.7 650.3,763.1 647.7,770.0 649.2,771.3 650.5,772.8 657.4,770.2 658.8,772.3 660.0,774.5 661.1,776.8 661.9,779.1 655.8,783.2 656.2,785.1 656.4,787.0" fill="#030303" stroke="#030303" stroke-width="2" stroke-linejoin="round"/>
<circle cx="760.7" cy="848" r="92" fill="#0e0e0e"/>
<circle cx="760.7" cy="846" r="91" fill="url(#cdisc)" stroke="#555" stroke-width="1.5"/>
<g fill="#050505"><circle cx="839.6" cy="850.1" r="2.8"/><circle cx="835.8" cy="870.4" r="2.8"/><circle cx="827.0" cy="889.0" r="2.8"/><circle cx="813.6" cy="904.7" r="2.8"/><circle cx="796.6" cy="916.4" r="2.8"/><circle cx="777.1" cy="923.3" r="2.8"/><circle cx="756.6" cy="924.9" r="2.8"/><circle cx="736.3" cy="921.1" r="2.8"/><circle cx="717.7" cy="912.3" r="2.8"/><circle cx="702.0" cy="898.9" r="2.8"/><circle cx="690.3" cy="881.9" r="2.8"/><circle cx="683.4" cy="862.4" r="2.8"/><circle cx="681.8" cy="841.9" r="2.8"/><circle cx="685.6" cy="821.6" r="2.8"/><circle cx="694.4" cy="803.0" r="2.8"/><circle cx="707.8" cy="787.3" r="2.8"/><circle cx="724.8" cy="775.6" r="2.8"/><circle cx="744.3" cy="768.7" r="2.8"/><circle cx="764.8" cy="767.1" r="2.8"/><circle cx="785.1" cy="770.9" r="2.8"/><circle cx="803.7" cy="779.7" r="2.8"/><circle cx="819.4" cy="793.1" r="2.8"/><circle cx="831.1" cy="810.1" r="2.8"/><circle cx="838.0" cy="829.6" r="2.8"/><circle cx="819.4" cy="858.5" r="2.8"/><circle cx="811.6" cy="877.8" r="2.8"/><circle cx="797.6" cy="893.3" r="2.8"/><circle cx="779.2" cy="903.1" r="2.8"/><circle cx="758.6" cy="906.0" r="2.8"/><circle cx="738.2" cy="901.6" r="2.8"/><circle cx="720.6" cy="890.6" r="2.8"/><circle cx="707.7" cy="874.2" r="2.8"/><circle cx="701.3" cy="854.4" r="2.8"/><circle cx="702.0" cy="833.5" r="2.8"/><circle cx="709.8" cy="814.2" r="2.8"/><circle cx="723.8" cy="798.7" r="2.8"/><circle cx="742.2" cy="788.9" r="2.8"/><circle cx="762.8" cy="786.0" r="2.8"/><circle cx="783.2" cy="790.4" r="2.8"/><circle cx="800.8" cy="801.4" r="2.8"/><circle cx="813.7" cy="817.8" r="2.8"/><circle cx="820.1" cy="837.6" r="2.8"/></g>
<circle cx="759.7" cy="851.3" r="49" fill="#141414" filter="url(#blur1)"/>
<circle cx="759.7" cy="851.3" r="44.5" fill="url(#screw)"/>
<rect x="740.7" y="839.3" width="42" height="13" rx="3" fill="#6b6b6b" stroke="#9a9a9a" stroke-width="1" transform="rotate(19 761.7 845.8)"/>
<rect x="740.7" y="839.3" width="42" height="13" rx="3" fill="#6b6b6b" stroke="#9a9a9a" stroke-width="1" transform="rotate(109 761.7 845.8)"/>
<circle cx="761.7" cy="845.8" r="9" fill="#6b6b6b"/>
<circle cx="762.7" cy="845.8" r="4.5" fill="#8c8c8c"/>
<path d="M753.7,865.3 q8,-8 16,-4 q6,3 12,1" fill="none" stroke="#d8d8d8" stroke-width="2"/>
<path d="M660,1355 Q750,1367 836,1358.5" fill="none" stroke="#4a7a2a" stroke-width="4.2" stroke-dasharray="17 10"/>
<defs><g id="noz"><g fill="none" stroke="#f6fbea" stroke-width="2.9" stroke-linejoin="round" stroke-linecap="round"><ellipse cx="0" cy="0" rx="23.1" ry="77.4"/><path d="M0.5,-77.4 C8.6,-80.6 17.0,-82.1 24.8,-81.8 C33.8,-81.4 41.0,-73.2 47.0,-55.2 C53.0,-38.4 56.2,-18.0 56.0,-1.2 C55.9,18.0 51.8,42.0 44.6,60.0 C39.8,72.0 33.8,80.4 24.8,81.6 C17.0,81.8 8.6,79.8 1.7,77.4"/><path d="M40.1,-74.2 L61.4,-74.9 L137.0,-33.4"/><path d="M43.7,71.0 Q56.6,71.4 65.0,68.2 L149.0,24.6"/></g><g fill="none" stroke="#d2f5ae" stroke-width="1.5"><path d="M8.9,-60.6 C-2.2,-49.2 -10.0,-27.6 -10.3,-3.6 C-10.3,22.8 -5.8,48.0 2.9,63.0"/><ellipse cx="-4.3" cy="7.2" rx="5.0" ry="10.6" transform="rotate(0 -4.3 7.2)"/><ellipse cx="-4.8" cy="8.4" rx="2.2" ry="4.8" transform="rotate(0 -4.8 8.4)"/><ellipse cx="10.7" cy="4.8" rx="6.0" ry="11.8" transform="rotate(0 10.7 4.8)"/><ellipse cx="9.6" cy="5.4" rx="2.6" ry="7.0" transform="rotate(0 9.6 5.4)"/><ellipse cx="0.8" cy="28.8" rx="4.3" ry="11.0" transform="rotate(0 0.8 28.8)"/><ellipse cx="8.9" cy="30.0" rx="4.8" ry="10.8" transform="rotate(0 8.9 30.0)"/><ellipse cx="11.0" cy="-22.8" rx="4.6" ry="11.4" transform="rotate(8 11.0 -22.8)"/><ellipse cx="8.0" cy="-19.2" rx="1.7" ry="8.4" transform="rotate(10 8.0 -19.2)"/><path d="M-8.2,-6.0 q-2,-10 -1,-12 q5,-3 7,1 q0,6 1,8 q4,2 5,-3 q1,-7 4,-8 q4,0 5,5"/><path d="M0.8,-33.6 q0,-9 6,-9 q6,1 7,9"/></g></g><g id="nozFlat"><g fill="none" stroke="#f6fbea" stroke-width="2.9" stroke-linejoin="round" stroke-linecap="round"><path d="M-17.9,-49.0 A23.1,77.4 0 1 1 -23.1,-5.0"/><path d="M0.5,-77.4 C8.6,-80.6 17.0,-82.1 24.8,-81.8 C33.8,-81.4 41.0,-73.2 47.0,-55.2 C53.0,-38.4 56.2,-18.0 56.0,-1.2 C55.9,18.0 51.8,42.0 44.6,60.0 C39.8,72.0 33.8,80.4 24.8,81.6 C17.0,81.8 8.6,79.8 1.7,77.4"/><path d="M40.1,-74.2 L61.4,-74.9 L137.0,-33.4"/><path d="M43.7,71.0 Q56.6,71.4 65.0,68.2 L149.0,24.6"/></g><g fill="none" stroke="#d2f5ae" stroke-width="1.5"><path d="M8.9,-60.6 C-2.2,-49.2 -10.0,-27.6 -10.3,-3.6 C-10.3,22.8 -5.8,48.0 2.9,63.0"/><ellipse cx="-4.3" cy="7.2" rx="5.0" ry="10.6" transform="rotate(0 -4.3 7.2)"/><ellipse cx="-4.8" cy="8.4" rx="2.2" ry="4.8" transform="rotate(0 -4.8 8.4)"/><ellipse cx="10.7" cy="4.8" rx="6.0" ry="11.8" transform="rotate(0 10.7 4.8)"/><ellipse cx="9.6" cy="5.4" rx="2.6" ry="7.0" transform="rotate(0 9.6 5.4)"/><ellipse cx="0.8" cy="28.8" rx="4.3" ry="11.0" transform="rotate(0 0.8 28.8)"/><ellipse cx="8.9" cy="30.0" rx="4.8" ry="10.8" transform="rotate(0 8.9 30.0)"/><ellipse cx="11.0" cy="-22.8" rx="4.6" ry="11.4" transform="rotate(8 11.0 -22.8)"/><ellipse cx="8.0" cy="-19.2" rx="1.7" ry="8.4" transform="rotate(10 8.0 -19.2)"/><path d="M-8.2,-6.0 q-2,-10 -1,-12 q5,-3 7,1 q0,6 1,8 q4,2 5,-3 q1,-7 4,-8 q4,0 5,5"/><path d="M0.8,-33.6 q0,-9 6,-9 q6,1 7,9"/></g></g><g id="nozFull"><g fill="none" stroke="#f6fbea" stroke-width="2.9" stroke-linejoin="round" stroke-linecap="round"><path d="M-17.1,-52.0 A23.1,77.4 0 1 1 -22.9,-9.0"/><path d="M0.5,-77.4 C8.6,-80.6 17.0,-82.1 24.8,-81.8 C33.8,-81.4 41.0,-73.2 47.0,-55.2 C53.0,-38.4 56.2,-18.0 56.0,-1.2 C55.9,18.0 51.8,42.0 44.6,60.0 C39.8,72.0 33.8,80.4 24.8,81.6 C17.0,81.8 8.6,79.8 1.7,77.4"/><path d="M40.1,-74.2 L61.4,-74.9 L137.0,-33.4"/><path d="M43.7,71.0 Q56.6,71.4 65.0,68.2 L149.0,24.6"/></g><g fill="none" stroke="#d2f5ae" stroke-width="1.5"><path d="M8.9,-60.6 C-2.2,-49.2 -10.0,-27.6 -10.3,-3.6 C-10.3,22.8 -5.8,48.0 2.9,63.0"/><ellipse cx="-4.3" cy="7.2" rx="5.0" ry="10.6" transform="rotate(0 -4.3 7.2)"/><ellipse cx="-4.8" cy="8.4" rx="2.2" ry="4.8" transform="rotate(0 -4.8 8.4)"/><ellipse cx="10.7" cy="4.8" rx="6.0" ry="11.8" transform="rotate(0 10.7 4.8)"/><ellipse cx="9.6" cy="5.4" rx="2.6" ry="7.0" transform="rotate(0 9.6 5.4)"/><ellipse cx="0.8" cy="28.8" rx="4.3" ry="11.0" transform="rotate(0 0.8 28.8)"/><ellipse cx="8.9" cy="30.0" rx="4.8" ry="10.8" transform="rotate(0 8.9 30.0)"/><ellipse cx="11.0" cy="-22.8" rx="4.6" ry="11.4" transform="rotate(8 11.0 -22.8)"/><ellipse cx="8.0" cy="-19.2" rx="1.7" ry="8.4" transform="rotate(10 8.0 -19.2)"/><path d="M-8.2,-6.0 q-2,-10 -1,-12 q5,-3 7,1 q0,6 1,8 q4,2 5,-3 q1,-7 4,-8 q4,0 5,5"/><path d="M0.8,-33.6 q0,-9 6,-9 q6,1 7,9"/></g></g></defs>
<g transform="translate(773,306)">
<circle r="157.6" fill="#dddddd" filter="url(#blur1)"/>
<circle r="145.6" fill="url(#discG)"/>
<g clip-path="url(#cc)">
<path d="M-160,-58.0 H24.4 a3,3 0 0 1 3,3 V-43.6 a3,3 0 0 1 -3,3 H-160 Z" fill="#5bb6d6"/>
<use href="#noz" transform="translate(20.0,-16.0) scale(1)"/>
<rect x="-150" y="71.0" width="300" height="79.0" fill="url(#band)"/>
</g>
<circle r="144.7" fill="none" stroke="url(#rim)" stroke-width="2.6"/>
<text x="-31.7" y="117.8" font-family="'Liberation Sans', sans-serif" font-weight="bold" font-size="36" fill="#ffffff" stroke="#ffffff" stroke-width="0.9" stroke-linejoin="round" textLength="53.8" lengthAdjust="spacingAndGlyphs" opacity="0.999">JET</text>
</g>
<g transform="translate(331.5,551)">
<circle r="157.6" fill="#dddddd" filter="url(#blur1)"/>
<circle r="145.6" fill="url(#discG)"/>
<g clip-path="url(#cc)">
<path d="M-95.5,-118.5 L19.9,-60.6 Q26.0,-57.2 25.3,-51.0 L22.9,-40.2 Q21.5,-36.7 16.9,-36.6 L-117.9,28.6" fill="none" stroke="#5bb6d6" stroke-width="5" stroke-linejoin="round"/>
<use href="#noz" transform="translate(17.5,-19.2) scale(1)"/>
<rect x="-150" y="70.9" width="300" height="79.1" fill="url(#band)"/>
</g>
<circle r="144.7" fill="none" stroke="url(#rim)" stroke-width="2.6"/>
<text x="-57.8" y="113.5" font-family="'Liberation Sans', sans-serif" font-weight="bold" font-size="36" fill="#ffffff" stroke="#ffffff" stroke-width="0.9" stroke-linejoin="round" textLength="100.1" lengthAdjust="spacingAndGlyphs" opacity="0.999">CONE</text>
</g>
<g transform="translate(1176,551)">
<circle r="157.6" fill="#dddddd" filter="url(#blur1)"/>
<circle r="145.6" fill="url(#discG)"/>
<g clip-path="url(#cc)">
<use href="#nozFlat" transform="translate(16.4,-24.8) scale(1)"/>
<path d="M-118.4,-70.0 L17.8,-56.8 L18.0,-52.8 L-118.4,-37.5" fill="none" stroke="#5bb6d6" stroke-width="4.8" stroke-linejoin="miter"/>
<path d="M10.0,-64.6 L-94.4,-104.2 M10.0,-39.4 L-111.8,6.8" stroke="#7fc7d9" stroke-width="0.7" opacity="0.55"/>
<rect x="-2.8" y="-2.8" width="5.6" height="5.6" fill="#5bb6d6" transform="translate(10.0,-64.6) rotate(21)"/><rect x="-2.8" y="-2.8" width="5.6" height="5.6" fill="#5bb6d6" transform="translate(-7.4,-71.2) rotate(21)"/><rect x="-2.8" y="-2.8" width="5.6" height="5.6" fill="#5bb6d6" transform="translate(-24.8,-77.8) rotate(21)"/><rect x="-2.8" y="-2.8" width="5.6" height="5.6" fill="#5bb6d6" transform="translate(-42.2,-84.4) rotate(21)"/><rect x="-2.8" y="-2.8" width="5.6" height="5.6" fill="#5bb6d6" transform="translate(-59.6,-91.0) rotate(21)"/><rect x="-2.8" y="-2.8" width="5.6" height="5.6" fill="#5bb6d6" transform="translate(-77.0,-97.6) rotate(21)"/><rect x="-2.8" y="-2.8" width="5.6" height="5.6" fill="#5bb6d6" transform="translate(-94.4,-104.2) rotate(21)"/>
<rect x="-2.8" y="-2.8" width="5.6" height="5.6" fill="#5bb6d6" transform="translate(10.0,-39.4) rotate(-21)"/><rect x="-2.8" y="-2.8" width="5.6" height="5.6" fill="#5bb6d6" transform="translate(-7.4,-32.8) rotate(-21)"/><rect x="-2.8" y="-2.8" width="5.6" height="5.6" fill="#5bb6d6" transform="translate(-24.8,-26.2) rotate(-21)"/><rect x="-2.8" y="-2.8" width="5.6" height="5.6" fill="#5bb6d6" transform="translate(-42.2,-19.6) rotate(-21)"/><rect x="-2.8" y="-2.8" width="5.6" height="5.6" fill="#5bb6d6" transform="translate(-59.6,-13.0) rotate(-21)"/><rect x="-2.8" y="-2.8" width="5.6" height="5.6" fill="#5bb6d6" transform="translate(-77.0,-6.4) rotate(-21)"/><rect x="-2.8" y="-2.8" width="5.6" height="5.6" fill="#5bb6d6" transform="translate(-94.4,0.2) rotate(-21)"/><rect x="-2.8" y="-2.8" width="5.6" height="5.6" fill="#5bb6d6" transform="translate(-111.8,6.8) rotate(-21)"/>
<rect x="-150" y="70.9" width="300" height="79.1" fill="url(#band)"/>
</g>
<circle r="144.7" fill="none" stroke="url(#rim)" stroke-width="2.6"/>
<text x="-38.3" y="113.5" font-family="'Liberation Sans', sans-serif" font-weight="bold" font-size="36" fill="#ffffff" stroke="#ffffff" stroke-width="0.9" stroke-linejoin="round" textLength="76.3" lengthAdjust="spacingAndGlyphs" opacity="0.999">FLAT</text>
</g>
<g transform="translate(1296.7,952)">
<circle r="157.6" fill="#dddddd" filter="url(#blur1)"/>
<circle r="145.6" fill="url(#discG)"/>
<g clip-path="url(#cc)">
<g fill="none" stroke="#f6fbea" stroke-width="2.8" stroke-linejoin="round" stroke-linecap="round"><path d="M7.9,-35.2 C9.3,-64.0 18.9,-98.8 32.1,-100.6 C45.3,-100.0 56.1,-61.6 56.1,-19.6 C55.9,22.4 46.5,60.8 34.5,61.4 C21.3,60.8 9.3,35.6 7.5,6.2"/><path d="M32.1,-100.6 C40.5,-104.2 51.3,-105.8 59.1,-105.4 C68.1,-104.6 76.5,-84.4 81.9,-64.0 C86.7,-46.0 88.7,-30.4 88.5,-19.6 C88.3,2.0 83.7,26.0 76.5,47.6 C71.7,59.6 60.9,63.4 51.3,63.8 C44.1,63.8 39.3,62.6 34.5,61.4"/><path d="M73.1,-97.4 L98.1,-97.6 L141.3,-71.2"/><path d="M76.7,58.4 Q88.5,59.0 98.1,54.8 L165.3,24.2"/></g>
<g fill="none" stroke="#d2f5ae" stroke-width="1.5"><path d="M40.0,-83.2 C28.5,-72.4 22.5,-44.8 21.5,-20.8 C21.1,5.6 24.9,32.0 34.7,46.6"/><path d="M35.9,-98.6 C46.5,-82.0 53.9,-49.6 53.9,-19.6" opacity="0.8"/><ellipse cx="31.5" cy="-44.2" rx="5.0" ry="11.4" /><ellipse cx="29.9" cy="-43.6" rx="2.9" ry="9.0" /><ellipse cx="41.5" cy="-40.0" rx="2.6" ry="10.2" /><ellipse cx="42.9" cy="-12.4" rx="5.8" ry="13.4" /><ellipse cx="27.9" cy="-10.0" rx="5.0" ry="11.8" /><ellipse cx="40.1" cy="12.8" rx="5.0" ry="12.0" /><ellipse cx="31.5" cy="15.2" rx="3.8" ry="10.8" /></g>
<ellipse cx="40.5" cy="-12.4" rx="3" ry="9" fill="#eef7e0"/>
<rect x="18.2" y="-42.2" width="7.4" height="5.6" fill="#5bb6d6"/><rect x="11.6" y="-34.4" width="7.4" height="5.6" fill="#5bb6d6"/><rect x="14.6" y="-23.0" width="7.4" height="5.6" fill="#5bb6d6"/><rect x="10.4" y="-11.6" width="7.4" height="5.6" fill="#5bb6d6"/><rect x="5.0" y="-5.0" width="7.4" height="5.6" fill="#5bb6d6"/><rect x="-5.0" y="-42.2" width="7.4" height="5.6" fill="#5bb6d6"/><rect x="-11.6" y="-34.4" width="7.4" height="5.6" fill="#5bb6d6"/><rect x="-8.6" y="-23.0" width="7.4" height="5.6" fill="#5bb6d6"/><rect x="-12.8" y="-11.6" width="7.4" height="5.6" fill="#5bb6d6"/><rect x="-18.2" y="-5.0" width="7.4" height="5.6" fill="#5bb6d6"/><rect x="-28.2" y="-42.2" width="7.4" height="5.6" fill="#5bb6d6"/><rect x="-34.8" y="-34.4" width="7.4" height="5.6" fill="#5bb6d6"/><rect x="-31.8" y="-23.0" width="7.4" height="5.6" fill="#5bb6d6"/><rect x="-36.0" y="-11.6" width="7.4" height="5.6" fill="#5bb6d6"/><rect x="-41.4" y="-5.0" width="7.4" height="5.6" fill="#5bb6d6"/><rect x="-51.4" y="-42.2" width="7.4" height="5.6" fill="#5bb6d6"/><rect x="-58.0" y="-34.4" width="7.4" height="5.6" fill="#5bb6d6"/><rect x="-55.0" y="-23.0" width="7.4" height="5.6" fill="#5bb6d6"/><rect x="-59.2" y="-11.6" width="7.4" height="5.6" fill="#5bb6d6"/><rect x="-64.6" y="-5.0" width="7.4" height="5.6" fill="#5bb6d6"/><rect x="-74.6" y="-42.2" width="7.4" height="5.6" fill="#5bb6d6"/><rect x="-81.2" y="-34.4" width="7.4" height="5.6" fill="#5bb6d6"/><rect x="-78.2" y="-23.0" width="7.4" height="5.6" fill="#5bb6d6"/><rect x="-82.4" y="-11.6" width="7.4" height="5.6" fill="#5bb6d6"/><rect x="-87.8" y="-5.0" width="7.4" height="5.6" fill="#5bb6d6"/><rect x="-97.8" y="-42.2" width="7.4" height="5.6" fill="#5bb6d6"/><rect x="-104.4" y="-34.4" width="7.4" height="5.6" fill="#5bb6d6"/><rect x="-101.4" y="-23.0" width="7.4" height="5.6" fill="#5bb6d6"/><rect x="-105.6" y="-11.6" width="7.4" height="5.6" fill="#5bb6d6"/><rect x="-111.0" y="-5.0" width="7.4" height="5.6" fill="#5bb6d6"/><rect x="-121.0" y="-42.2" width="7.4" height="5.6" fill="#5bb6d6"/><rect x="-127.6" y="-34.4" width="7.4" height="5.6" fill="#5bb6d6"/><rect x="-124.6" y="-23.0" width="7.4" height="5.6" fill="#5bb6d6"/><rect x="-128.8" y="-11.6" width="7.4" height="5.6" fill="#5bb6d6"/><rect x="-134.2" y="-5.0" width="7.4" height="5.6" fill="#5bb6d6"/><rect x="29.6" y="-28.4" width="7.4" height="5.6" fill="#5bb6d6"/><rect x="26.0" y="-9.8" width="7.4" height="5.6" fill="#5bb6d6"/>
<rect x="-150" y="70.9" width="300" height="79.1" fill="url(#band)"/>
</g>
<circle r="144.7" fill="none" stroke="url(#rim)" stroke-width="2.6"/>
<text x="-67.6" y="114.8" font-family="'Liberation Sans', sans-serif" font-weight="bold" font-size="36" fill="#ffffff" stroke="#ffffff" stroke-width="0.9" stroke-linejoin="round" textLength="129.1" lengthAdjust="spacingAndGlyphs" opacity="0.999">CENTER</text>
</g>
<g transform="translate(984.2,1298.5)">
<circle r="157.6" fill="#dddddd" filter="url(#blur1)"/>
<circle r="145.6" fill="url(#discG)"/>
<g clip-path="url(#cc)">
<use href="#nozFull" transform="translate(14.8,-29.1) scale(1.065)"/>
<path d="M-149.2,-90.7 L10.6,-71.1 Q16.3,-69.1 17.2,-62.1 L15.8,-53.1 Q14.3,-45.6 9.8,-45.2 L-152.2,-33.3" fill="none" stroke="#5bb6d6" stroke-width="4.6" stroke-linejoin="round"/>
<rect x="-150" y="77.8" width="300" height="72.2" fill="url(#band)"/>
</g>
<circle r="144.7" fill="none" stroke="url(#rim)" stroke-width="2.6"/>
<text x="-40.1" y="118.3" font-family="'Liberation Sans', sans-serif" font-weight="bold" font-size="36" fill="#ffffff" stroke="#ffffff" stroke-width="0.9" stroke-linejoin="round" textLength="78.1" lengthAdjust="spacingAndGlyphs" opacity="0.999">FULL</text>
</g>
<g transform="translate(512.5,1294)">
<circle r="157.6" fill="#dddddd" filter="url(#blur1)"/>
<circle r="145.6" fill="url(#discG)"/>
<g clip-path="url(#cc)">
<use href="#noz" transform="translate(12.5,-22.8) scale(1.065)"/>
<path d="M6.0,-63.9 L-74.3,-112.9 M4.9,-61.8 L-94.3,-101.9 M4.2,-59.6 L-102.8,-82.7 M3.9,-57.3 L-118.4,-63.5 M4.0,-54.7 L-119.7,-37.3 M4.5,-52.5 L-114.9,-15.5 M5.2,-50.7 L-118.4,7.2 M5.8,-49.5 L-120.8,25.1" stroke="#9ad0c0" stroke-width="0.6" opacity="0.5"/>
<rect x="-2.7" y="-2.7" width="5.4" height="5.4" fill="#5bb6d6" transform="translate(-22.2,-81.1) rotate(20)"/><rect x="-2.7" y="-2.7" width="5.4" height="5.4" fill="#5bb6d6" transform="translate(-36.4,-89.7) rotate(20)"/><rect x="-2.7" y="-2.7" width="5.4" height="5.4" fill="#5bb6d6" transform="translate(-50.6,-98.4) rotate(20)"/><rect x="-2.7" y="-2.7" width="5.4" height="5.4" fill="#5bb6d6" transform="translate(-64.7,-107.0) rotate(20)"/><rect x="-2.7" y="-2.7" width="5.4" height="5.4" fill="#5bb6d6" transform="translate(-25.7,-74.2) rotate(20)"/><rect x="-2.7" y="-2.7" width="5.4" height="5.4" fill="#5bb6d6" transform="translate(-41.1,-80.4) rotate(20)"/><rect x="-2.7" y="-2.7" width="5.4" height="5.4" fill="#5bb6d6" transform="translate(-56.5,-86.6) rotate(20)"/><rect x="-2.7" y="-2.7" width="5.4" height="5.4" fill="#5bb6d6" transform="translate(-71.9,-92.9) rotate(20)"/><rect x="-2.7" y="-2.7" width="5.4" height="5.4" fill="#5bb6d6" transform="translate(-87.2,-99.1) rotate(20)"/><rect x="-2.7" y="-2.7" width="5.4" height="5.4" fill="#5bb6d6" transform="translate(-28.0,-66.5) rotate(20)"/><rect x="-2.7" y="-2.7" width="5.4" height="5.4" fill="#5bb6d6" transform="translate(-44.3,-70.0) rotate(20)"/><rect x="-2.7" y="-2.7" width="5.4" height="5.4" fill="#5bb6d6" transform="translate(-60.5,-73.5) rotate(20)"/><rect x="-2.7" y="-2.7" width="5.4" height="5.4" fill="#5bb6d6" transform="translate(-76.7,-77.1) rotate(20)"/><rect x="-2.7" y="-2.7" width="5.4" height="5.4" fill="#5bb6d6" transform="translate(-92.9,-80.6) rotate(20)"/><rect x="-2.7" y="-2.7" width="5.4" height="5.4" fill="#5bb6d6" transform="translate(-29.0,-59.0) rotate(20)"/><rect x="-2.7" y="-2.7" width="5.4" height="5.4" fill="#5bb6d6" transform="translate(-45.6,-59.8) rotate(20)"/><rect x="-2.7" y="-2.7" width="5.4" height="5.4" fill="#5bb6d6" transform="translate(-62.2,-60.7) rotate(20)"/><rect x="-2.7" y="-2.7" width="5.4" height="5.4" fill="#5bb6d6" transform="translate(-78.8,-61.5) rotate(20)"/><rect x="-2.7" y="-2.7" width="5.4" height="5.4" fill="#5bb6d6" transform="translate(-95.4,-62.3) rotate(20)"/><rect x="-2.7" y="-2.7" width="5.4" height="5.4" fill="#5bb6d6" transform="translate(-111.9,-63.2) rotate(20)"/><rect x="-2.7" y="-2.7" width="5.4" height="5.4" fill="#5bb6d6" transform="translate(-28.6,-50.1) rotate(20)"/><rect x="-2.7" y="-2.7" width="5.4" height="5.4" fill="#5bb6d6" transform="translate(-45.1,-47.7) rotate(20)"/><rect x="-2.7" y="-2.7" width="5.4" height="5.4" fill="#5bb6d6" transform="translate(-61.5,-45.4) rotate(20)"/><rect x="-2.7" y="-2.7" width="5.4" height="5.4" fill="#5bb6d6" transform="translate(-78.0,-43.1) rotate(20)"/><rect x="-2.7" y="-2.7" width="5.4" height="5.4" fill="#5bb6d6" transform="translate(-94.4,-40.8) rotate(20)"/><rect x="-2.7" y="-2.7" width="5.4" height="5.4" fill="#5bb6d6" transform="translate(-110.8,-38.5) rotate(20)"/><rect x="-2.7" y="-2.7" width="5.4" height="5.4" fill="#5bb6d6" transform="translate(-27.0,-42.7) rotate(20)"/><rect x="-2.7" y="-2.7" width="5.4" height="5.4" fill="#5bb6d6" transform="translate(-42.9,-37.8) rotate(20)"/><rect x="-2.7" y="-2.7" width="5.4" height="5.4" fill="#5bb6d6" transform="translate(-58.7,-32.9) rotate(20)"/><rect x="-2.7" y="-2.7" width="5.4" height="5.4" fill="#5bb6d6" transform="translate(-74.6,-28.0) rotate(20)"/><rect x="-2.7" y="-2.7" width="5.4" height="5.4" fill="#5bb6d6" transform="translate(-90.4,-23.1) rotate(20)"/><rect x="-2.7" y="-2.7" width="5.4" height="5.4" fill="#5bb6d6" transform="translate(-106.3,-18.2) rotate(20)"/><rect x="-2.7" y="-2.7" width="5.4" height="5.4" fill="#5bb6d6" transform="translate(-24.7,-36.7) rotate(20)"/><rect x="-2.7" y="-2.7" width="5.4" height="5.4" fill="#5bb6d6" transform="translate(-39.7,-29.6) rotate(20)"/><rect x="-2.7" y="-2.7" width="5.4" height="5.4" fill="#5bb6d6" transform="translate(-54.7,-22.6) rotate(20)"/><rect x="-2.7" y="-2.7" width="5.4" height="5.4" fill="#5bb6d6" transform="translate(-69.8,-15.5) rotate(20)"/><rect x="-2.7" y="-2.7" width="5.4" height="5.4" fill="#5bb6d6" transform="translate(-84.8,-8.5) rotate(20)"/><rect x="-2.7" y="-2.7" width="5.4" height="5.4" fill="#5bb6d6" transform="translate(-99.8,-1.5) rotate(20)"/><rect x="-2.7" y="-2.7" width="5.4" height="5.4" fill="#5bb6d6" transform="translate(-114.9,5.6) rotate(20)"/><rect x="-2.7" y="-2.7" width="5.4" height="5.4" fill="#5bb6d6" transform="translate(-22.6,-32.7) rotate(20)"/><rect x="-2.7" y="-2.7" width="5.4" height="5.4" fill="#5bb6d6" transform="translate(-36.9,-24.3) rotate(20)"/><rect x="-2.7" y="-2.7" width="5.4" height="5.4" fill="#5bb6d6" transform="translate(-51.2,-15.9) rotate(20)"/><rect x="-2.7" y="-2.7" width="5.4" height="5.4" fill="#5bb6d6" transform="translate(-65.5,-7.5) rotate(20)"/><rect x="-2.7" y="-2.7" width="5.4" height="5.4" fill="#5bb6d6" transform="translate(-79.8,1.0) rotate(20)"/><rect x="-2.7" y="-2.7" width="5.4" height="5.4" fill="#5bb6d6" transform="translate(-94.1,9.4) rotate(20)"/><rect x="-2.7" y="-2.7" width="5.4" height="5.4" fill="#5bb6d6" transform="translate(-108.4,17.8) rotate(20)"/><rect x="-2.7" y="-2.7" width="5.4" height="5.4" fill="#5bb6d6" transform="translate(6.4,-67.7) rotate(20)"/><rect x="-2.7" y="-2.7" width="5.4" height="5.4" fill="#5bb6d6" transform="translate(4.0,-64.4) rotate(20)"/><rect x="-2.7" y="-2.7" width="5.4" height="5.4" fill="#5bb6d6" transform="translate(2.4,-60.7) rotate(20)"/><rect x="-2.7" y="-2.7" width="5.4" height="5.4" fill="#5bb6d6" transform="translate(1.9,-56.6) rotate(20)"/><rect x="-2.7" y="-2.7" width="5.4" height="5.4" fill="#5bb6d6" transform="translate(2.4,-52.5) rotate(20)"/><rect x="-2.7" y="-2.7" width="5.4" height="5.4" fill="#5bb6d6" transform="translate(4.0,-48.8) rotate(20)"/><rect x="-2.7" y="-2.7" width="5.4" height="5.4" fill="#5bb6d6" transform="translate(6.4,-45.5) rotate(20)"/><rect x="-2.7" y="-2.7" width="5.4" height="5.4" fill="#5bb6d6" transform="translate(-6.2,-76.8) rotate(20)"/><rect x="-2.7" y="-2.7" width="5.4" height="5.4" fill="#5bb6d6" transform="translate(-9.8,-71.7) rotate(20)"/><rect x="-2.7" y="-2.7" width="5.4" height="5.4" fill="#5bb6d6" transform="translate(-12.2,-65.9) rotate(20)"/><rect x="-2.7" y="-2.7" width="5.4" height="5.4" fill="#5bb6d6" transform="translate(-13.4,-59.7) rotate(20)"/><rect x="-2.7" y="-2.7" width="5.4" height="5.4" fill="#5bb6d6" transform="translate(-13.4,-53.5) rotate(20)"/><rect x="-2.7" y="-2.7" width="5.4" height="5.4" fill="#5bb6d6" transform="translate(-12.2,-47.3) rotate(20)"/><rect x="-2.7" y="-2.7" width="5.4" height="5.4" fill="#5bb6d6" transform="translate(-9.8,-41.5) rotate(20)"/><rect x="-2.7" y="-2.7" width="5.4" height="5.4" fill="#5bb6d6" transform="translate(-6.2,-36.4) rotate(20)"/>
<rect x="-150" y="71.2" width="300" height="78.8" fill="url(#band)"/>
</g>
<circle r="144.7" fill="none" stroke="url(#rim)" stroke-width="2.6"/>
<text x="-40.8" y="116.8" font-family="'Liberation Sans', sans-serif" font-weight="bold" font-size="36" fill="#ffffff" stroke="#ffffff" stroke-width="0.9" stroke-linejoin="round" textLength="78.6" lengthAdjust="spacingAndGlyphs" opacity="0.999">MIST</text>
</g>
<g transform="translate(264.7,952)">
<circle r="157.6" fill="#dddddd" filter="url(#blur1)"/>
<circle r="145.6" fill="url(#discG)"/>
<g clip-path="url(#cc)">
<g fill="none" stroke="#f6fbea" stroke-width="2.8" stroke-linejoin="round" stroke-linecap="round"><path d="M11.3,-87.0 C14.9,-98.0 20.9,-105.2 26.9,-105.8 C40.1,-104.0 50.9,-68.0 50.9,-26.0 C50.7,16.0 40.1,55.6 26.3,56.8 C19.7,55.6 15.5,50.8 12.5,43.8"/><path d="M26.9,-105.8 C35.3,-109.0 46.1,-110.6 54.5,-110.0 C64.1,-108.8 72.5,-92.0 78.5,-71.6 C83.3,-54.8 85.9,-38.0 85.7,-24.8 C85.5,-2.0 80.9,22.0 72.5,46.0 C67.7,56.8 59.3,59.8 49.7,60.2 C40.1,60.2 32.9,58.6 26.3,56.8"/><path d="M67.9,-100.6 Q83.3,-102.8 90.5,-100.4 L131.3,-78.8"/><path d="M71.5,52.0 Q86.9,53.2 96.5,49.8 L167.3,13.6"/></g>
<path d="M20.3,-82.4 L-85.3,-114.8 M31.1,-67.4 L-94.9,-96.8" stroke="#b7e36a" stroke-width="0.8" opacity="0.9"/>
<path d="M34.7,-50.6 L-110.9,-65.0 M35.9,-36.6 L-112.1,-35.0 M35.9,-18.2 L-111.3,-7.0 M34.7,-3.2 L-110.9,17.6 M30.5,16.0 L-115.1,38.4 M20.9,34.6 L-105.1,61.9 M5.3,46.0 L-81.7,73.0" stroke="#7fbf6a" stroke-width="0.6" opacity="0.5"/>
<rect x="17.3" y="-85.4" width="6" height="6" fill="#5bb6d6"/><rect x="-0.3" y="-90.8" width="6" height="6" fill="#5bb6d6"/><rect x="-17.9" y="-96.2" width="6" height="6" fill="#5bb6d6"/><rect x="-35.5" y="-101.6" width="6" height="6" fill="#5bb6d6"/><rect x="-53.1" y="-107.0" width="6" height="6" fill="#5bb6d6"/><rect x="-70.7" y="-112.4" width="6" height="6" fill="#5bb6d6"/><rect x="-88.3" y="-117.8" width="6" height="6" fill="#5bb6d6"/><rect x="28.1" y="-70.4" width="6" height="6" fill="#5bb6d6"/><rect x="10.1" y="-74.6" width="6" height="6" fill="#5bb6d6"/><rect x="-7.9" y="-78.8" width="6" height="6" fill="#5bb6d6"/><rect x="-25.9" y="-83.0" width="6" height="6" fill="#5bb6d6"/><rect x="-43.9" y="-87.2" width="6" height="6" fill="#5bb6d6"/><rect x="-61.9" y="-91.4" width="6" height="6" fill="#5bb6d6"/><rect x="-79.9" y="-95.6" width="6" height="6" fill="#5bb6d6"/><rect x="-97.9" y="-99.8" width="6" height="6" fill="#5bb6d6"/><rect x="31.7" y="-53.6" width="6" height="6" fill="#5bb6d6"/><rect x="13.5" y="-55.4" width="6" height="6" fill="#5bb6d6"/><rect x="-4.7" y="-57.2" width="6" height="6" fill="#5bb6d6"/><rect x="-22.9" y="-59.0" width="6" height="6" fill="#5bb6d6"/><rect x="-41.1" y="-60.8" width="6" height="6" fill="#5bb6d6"/><rect x="-59.3" y="-62.6" width="6" height="6" fill="#5bb6d6"/><rect x="-77.5" y="-64.4" width="6" height="6" fill="#5bb6d6"/><rect x="-95.7" y="-66.2" width="6" height="6" fill="#5bb6d6"/><rect x="-113.9" y="-68.0" width="6" height="6" fill="#5bb6d6"/><rect x="32.9" y="-39.6" width="6" height="6" fill="#5bb6d6"/><rect x="14.4" y="-39.4" width="6" height="6" fill="#5bb6d6"/><rect x="-4.1" y="-39.2" width="6" height="6" fill="#5bb6d6"/><rect x="-22.6" y="-39.0" width="6" height="6" fill="#5bb6d6"/><rect x="-41.1" y="-38.8" width="6" height="6" fill="#5bb6d6"/><rect x="-59.6" y="-38.6" width="6" height="6" fill="#5bb6d6"/><rect x="-78.1" y="-38.4" width="6" height="6" fill="#5bb6d6"/><rect x="-96.6" y="-38.2" width="6" height="6" fill="#5bb6d6"/><rect x="-115.1" y="-38.0" width="6" height="6" fill="#5bb6d6"/><rect x="32.9" y="-21.2" width="6" height="6" fill="#5bb6d6"/><rect x="14.5" y="-19.8" width="6" height="6" fill="#5bb6d6"/><rect x="-3.9" y="-18.4" width="6" height="6" fill="#5bb6d6"/><rect x="-22.3" y="-17.0" width="6" height="6" fill="#5bb6d6"/><rect x="-40.7" y="-15.6" width="6" height="6" fill="#5bb6d6"/><rect x="-59.1" y="-14.2" width="6" height="6" fill="#5bb6d6"/><rect x="-77.5" y="-12.8" width="6" height="6" fill="#5bb6d6"/><rect x="-95.9" y="-11.4" width="6" height="6" fill="#5bb6d6"/><rect x="-114.3" y="-10.0" width="6" height="6" fill="#5bb6d6"/><rect x="31.7" y="-6.2" width="6" height="6" fill="#5bb6d6"/><rect x="13.5" y="-3.6" width="6" height="6" fill="#5bb6d6"/><rect x="-4.7" y="-1.0" width="6" height="6" fill="#5bb6d6"/><rect x="-22.9" y="1.6" width="6" height="6" fill="#5bb6d6"/><rect x="-41.1" y="4.2" width="6" height="6" fill="#5bb6d6"/><rect x="-59.3" y="6.8" width="6" height="6" fill="#5bb6d6"/><rect x="-77.5" y="9.4" width="6" height="6" fill="#5bb6d6"/><rect x="-95.7" y="12.0" width="6" height="6" fill="#5bb6d6"/><rect x="-113.9" y="14.6" width="6" height="6" fill="#5bb6d6"/><rect x="27.5" y="13.0" width="6" height="6" fill="#5bb6d6"/><rect x="9.3" y="15.8" width="6" height="6" fill="#5bb6d6"/><rect x="-8.9" y="18.6" width="6" height="6" fill="#5bb6d6"/><rect x="-27.1" y="21.4" width="6" height="6" fill="#5bb6d6"/><rect x="-45.3" y="24.2" width="6" height="6" fill="#5bb6d6"/><rect x="-63.5" y="27.0" width="6" height="6" fill="#5bb6d6"/><rect x="-81.7" y="29.8" width="6" height="6" fill="#5bb6d6"/><rect x="-99.9" y="32.6" width="6" height="6" fill="#5bb6d6"/><rect x="-118.1" y="35.4" width="6" height="6" fill="#5bb6d6"/><rect x="17.9" y="31.6" width="6" height="6" fill="#5bb6d6"/><rect x="-0.1" y="35.5" width="6" height="6" fill="#5bb6d6"/><rect x="-18.1" y="39.4" width="6" height="6" fill="#5bb6d6"/><rect x="-36.1" y="43.3" width="6" height="6" fill="#5bb6d6"/><rect x="-54.1" y="47.2" width="6" height="6" fill="#5bb6d6"/><rect x="-72.1" y="51.1" width="6" height="6" fill="#5bb6d6"/><rect x="-90.1" y="55.0" width="6" height="6" fill="#5bb6d6"/><rect x="-108.1" y="58.9" width="6" height="6" fill="#5bb6d6"/><rect x="2.3" y="43.0" width="6" height="6" fill="#5bb6d6"/><rect x="-15.1" y="48.4" width="6" height="6" fill="#5bb6d6"/><rect x="-32.5" y="53.8" width="6" height="6" fill="#5bb6d6"/><rect x="-49.9" y="59.2" width="6" height="6" fill="#5bb6d6"/><rect x="-67.3" y="64.6" width="6" height="6" fill="#5bb6d6"/><rect x="-84.7" y="70.0" width="6" height="6" fill="#5bb6d6"/>
<rect x="-150" y="70.9" width="300" height="79.1" fill="url(#band)"/>
</g>
<circle r="144.7" fill="none" stroke="url(#rim)" stroke-width="2.6"/>
<text x="-75.1" y="115.4" font-family="'Liberation Sans', sans-serif" font-weight="bold" font-size="36" fill="#ffffff" stroke="#ffffff" stroke-width="0.9" stroke-linejoin="round" textLength="147.8" lengthAdjust="spacingAndGlyphs" opacity="0.999">SHOWER</text>
</g>
</svg>
</body></html>
